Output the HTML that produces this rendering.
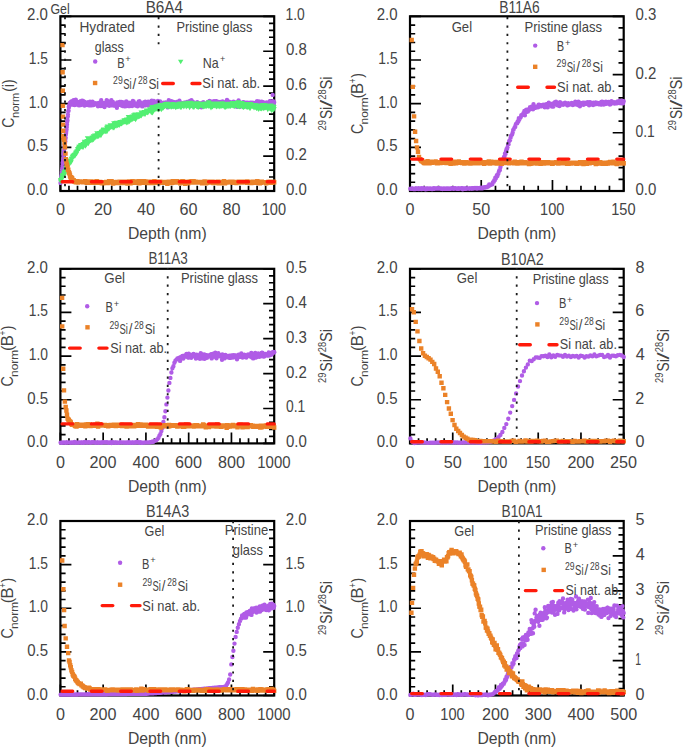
<!DOCTYPE html>
<html><head><meta charset="utf-8"><style>
html,body{margin:0;padding:0;background:#fff;}
svg{display:block;}
</style></head><body>
<svg width="685" height="749" viewBox="0 0 685 749" font-family='"Liberation Sans", sans-serif' fill="#444444">
<rect width="685" height="749" fill="#fff"/>
<rect x="60.40" y="16.30" width="213.80" height="174.70" stroke="#000" stroke-width="2.2" fill="none"/>
<path d="M60.40,191.00h11.0M60.40,182.26h5.2M60.40,173.53h5.2M60.40,164.79h5.2M60.40,156.06h5.2M60.40,147.32h11.0M60.40,138.59h5.2M60.40,129.85h5.2M60.40,121.12h5.2M60.40,112.39h5.2M60.40,103.65h11.0M60.40,94.91h5.2M60.40,86.18h5.2M60.40,77.45h5.2M60.40,68.71h5.2M60.40,59.98h11.0M60.40,51.24h5.2M60.40,42.50h5.2M60.40,33.77h5.2M60.40,25.03h5.2M60.40,16.30h11.0M274.20,191.00h-11.0M274.20,184.01h-5.2M274.20,177.02h-5.2M274.20,170.04h-5.2M274.20,163.05h-5.2M274.20,156.06h-11.0M274.20,149.07h-5.2M274.20,142.08h-5.2M274.20,135.10h-5.2M274.20,128.11h-5.2M274.20,121.12h-11.0M274.20,114.13h-5.2M274.20,107.14h-5.2M274.20,100.16h-5.2M274.20,93.17h-5.2M274.20,86.18h-11.0M274.20,79.19h-5.2M274.20,72.20h-5.2M274.20,65.22h-5.2M274.20,58.23h-5.2M274.20,51.24h-11.0M274.20,44.25h-5.2M274.20,37.26h-5.2M274.20,30.28h-5.2M274.20,23.29h-5.2M274.20,16.30h-11.0M60.40,191.00v-11.0M68.95,191.00v-5.2M77.50,191.00v-5.2M86.06,191.00v-5.2M94.61,191.00v-5.2M103.16,191.00v-11.0M111.71,191.00v-5.2M120.26,191.00v-5.2M128.82,191.00v-5.2M137.37,191.00v-5.2M145.92,191.00v-11.0M154.47,191.00v-5.2M163.02,191.00v-5.2M171.58,191.00v-5.2M180.13,191.00v-5.2M188.68,191.00v-11.0M197.23,191.00v-5.2M205.78,191.00v-5.2M214.34,191.00v-5.2M222.89,191.00v-5.2M231.44,191.00v-11.0M239.99,191.00v-5.2M248.54,191.00v-5.2M257.10,191.00v-5.2M265.65,191.00v-5.2M274.20,191.00v-11.0" stroke="#000" stroke-width="1.7" fill="none"/>
<rect x="410.00" y="16.30" width="213.70" height="174.70" stroke="#000" stroke-width="2.2" fill="none"/>
<path d="M410.00,191.00h11.0M410.00,182.26h5.2M410.00,173.53h5.2M410.00,164.79h5.2M410.00,156.06h5.2M410.00,147.32h11.0M410.00,138.59h5.2M410.00,129.85h5.2M410.00,121.12h5.2M410.00,112.39h5.2M410.00,103.65h11.0M410.00,94.91h5.2M410.00,86.18h5.2M410.00,77.45h5.2M410.00,68.71h5.2M410.00,59.98h11.0M410.00,51.24h5.2M410.00,42.50h5.2M410.00,33.77h5.2M410.00,25.03h5.2M410.00,16.30h11.0M623.70,191.00h-11.0M623.70,179.35h-5.2M623.70,167.71h-5.2M623.70,156.06h-5.2M623.70,144.41h-5.2M623.70,132.77h-11.0M623.70,121.12h-5.2M623.70,109.47h-5.2M623.70,97.83h-5.2M623.70,86.18h-5.2M623.70,74.53h-11.0M623.70,62.89h-5.2M623.70,51.24h-5.2M623.70,39.59h-5.2M623.70,27.95h-5.2M623.70,16.30h-11.0M410.00,191.00v-11.0M424.25,191.00v-5.2M438.49,191.00v-5.2M452.74,191.00v-5.2M466.99,191.00v-5.2M481.23,191.00v-11.0M495.48,191.00v-5.2M509.73,191.00v-5.2M523.97,191.00v-5.2M538.22,191.00v-5.2M552.47,191.00v-11.0M566.71,191.00v-5.2M580.96,191.00v-5.2M595.21,191.00v-5.2M609.45,191.00v-5.2M623.70,191.00v-11.0" stroke="#000" stroke-width="1.7" fill="none"/>
<rect x="60.40" y="268.80" width="213.80" height="174.60" stroke="#000" stroke-width="2.2" fill="none"/>
<path d="M60.40,443.40h11.0M60.40,434.67h5.2M60.40,425.94h5.2M60.40,417.21h5.2M60.40,408.48h5.2M60.40,399.75h11.0M60.40,391.02h5.2M60.40,382.29h5.2M60.40,373.56h5.2M60.40,364.83h5.2M60.40,356.10h11.0M60.40,347.37h5.2M60.40,338.64h5.2M60.40,329.91h5.2M60.40,321.18h5.2M60.40,312.45h11.0M60.40,303.72h5.2M60.40,294.99h5.2M60.40,286.26h5.2M60.40,277.53h5.2M60.40,268.80h11.0M274.20,443.40h-11.0M274.20,436.42h-5.2M274.20,429.43h-5.2M274.20,422.45h-5.2M274.20,415.46h-5.2M274.20,408.48h-11.0M274.20,401.50h-5.2M274.20,394.51h-5.2M274.20,387.53h-5.2M274.20,380.54h-5.2M274.20,373.56h-11.0M274.20,366.58h-5.2M274.20,359.59h-5.2M274.20,352.61h-5.2M274.20,345.62h-5.2M274.20,338.64h-11.0M274.20,331.66h-5.2M274.20,324.67h-5.2M274.20,317.69h-5.2M274.20,310.70h-5.2M274.20,303.72h-11.0M274.20,296.74h-5.2M274.20,289.75h-5.2M274.20,282.77h-5.2M274.20,275.78h-5.2M274.20,268.80h-11.0M60.40,443.40v-11.0M68.95,443.40v-5.2M77.50,443.40v-5.2M86.06,443.40v-5.2M94.61,443.40v-5.2M103.16,443.40v-11.0M111.71,443.40v-5.2M120.26,443.40v-5.2M128.82,443.40v-5.2M137.37,443.40v-5.2M145.92,443.40v-11.0M154.47,443.40v-5.2M163.02,443.40v-5.2M171.58,443.40v-5.2M180.13,443.40v-5.2M188.68,443.40v-11.0M197.23,443.40v-5.2M205.78,443.40v-5.2M214.34,443.40v-5.2M222.89,443.40v-5.2M231.44,443.40v-11.0M239.99,443.40v-5.2M248.54,443.40v-5.2M257.10,443.40v-5.2M265.65,443.40v-5.2M274.20,443.40v-11.0" stroke="#000" stroke-width="1.7" fill="none"/>
<rect x="410.00" y="268.80" width="213.70" height="174.60" stroke="#000" stroke-width="2.2" fill="none"/>
<path d="M410.00,443.40h11.0M410.00,434.67h5.2M410.00,425.94h5.2M410.00,417.21h5.2M410.00,408.48h5.2M410.00,399.75h11.0M410.00,391.02h5.2M410.00,382.29h5.2M410.00,373.56h5.2M410.00,364.83h5.2M410.00,356.10h11.0M410.00,347.37h5.2M410.00,338.64h5.2M410.00,329.91h5.2M410.00,321.18h5.2M410.00,312.45h11.0M410.00,303.72h5.2M410.00,294.99h5.2M410.00,286.26h5.2M410.00,277.53h5.2M410.00,268.80h11.0M623.70,443.40h-11.0M623.70,434.67h-5.2M623.70,425.94h-5.2M623.70,417.21h-5.2M623.70,408.48h-5.2M623.70,399.75h-11.0M623.70,391.02h-5.2M623.70,382.29h-5.2M623.70,373.56h-5.2M623.70,364.83h-5.2M623.70,356.10h-11.0M623.70,347.37h-5.2M623.70,338.64h-5.2M623.70,329.91h-5.2M623.70,321.18h-5.2M623.70,312.45h-11.0M623.70,303.72h-5.2M623.70,294.99h-5.2M623.70,286.26h-5.2M623.70,277.53h-5.2M623.70,268.80h-11.0M410.00,443.40v-11.0M418.55,443.40v-5.2M427.10,443.40v-5.2M435.64,443.40v-5.2M444.19,443.40v-5.2M452.74,443.40v-11.0M461.29,443.40v-5.2M469.84,443.40v-5.2M478.38,443.40v-5.2M486.93,443.40v-5.2M495.48,443.40v-11.0M504.03,443.40v-5.2M512.58,443.40v-5.2M521.12,443.40v-5.2M529.67,443.40v-5.2M538.22,443.40v-11.0M546.77,443.40v-5.2M555.32,443.40v-5.2M563.86,443.40v-5.2M572.41,443.40v-5.2M580.96,443.40v-11.0M589.51,443.40v-5.2M598.06,443.40v-5.2M606.60,443.40v-5.2M615.15,443.40v-5.2M623.70,443.40v-11.0" stroke="#000" stroke-width="1.7" fill="none"/>
<rect x="60.40" y="521.00" width="213.80" height="174.50" stroke="#000" stroke-width="2.2" fill="none"/>
<path d="M60.40,695.50h11.0M60.40,686.77h5.2M60.40,678.05h5.2M60.40,669.33h5.2M60.40,660.60h5.2M60.40,651.88h11.0M60.40,643.15h5.2M60.40,634.42h5.2M60.40,625.70h5.2M60.40,616.98h5.2M60.40,608.25h11.0M60.40,599.52h5.2M60.40,590.80h5.2M60.40,582.08h5.2M60.40,573.35h5.2M60.40,564.62h11.0M60.40,555.90h5.2M60.40,547.17h5.2M60.40,538.45h5.2M60.40,529.73h5.2M60.40,521.00h11.0M274.20,695.50h-11.0M274.20,686.77h-5.2M274.20,678.05h-5.2M274.20,669.33h-5.2M274.20,660.60h-5.2M274.20,651.88h-11.0M274.20,643.15h-5.2M274.20,634.42h-5.2M274.20,625.70h-5.2M274.20,616.98h-5.2M274.20,608.25h-11.0M274.20,599.52h-5.2M274.20,590.80h-5.2M274.20,582.08h-5.2M274.20,573.35h-5.2M274.20,564.62h-11.0M274.20,555.90h-5.2M274.20,547.17h-5.2M274.20,538.45h-5.2M274.20,529.73h-5.2M274.20,521.00h-11.0M60.40,695.50v-11.0M68.95,695.50v-5.2M77.50,695.50v-5.2M86.06,695.50v-5.2M94.61,695.50v-5.2M103.16,695.50v-11.0M111.71,695.50v-5.2M120.26,695.50v-5.2M128.82,695.50v-5.2M137.37,695.50v-5.2M145.92,695.50v-11.0M154.47,695.50v-5.2M163.02,695.50v-5.2M171.58,695.50v-5.2M180.13,695.50v-5.2M188.68,695.50v-11.0M197.23,695.50v-5.2M205.78,695.50v-5.2M214.34,695.50v-5.2M222.89,695.50v-5.2M231.44,695.50v-11.0M239.99,695.50v-5.2M248.54,695.50v-5.2M257.10,695.50v-5.2M265.65,695.50v-5.2M274.20,695.50v-11.0" stroke="#000" stroke-width="1.7" fill="none"/>
<rect x="410.00" y="521.00" width="213.70" height="174.50" stroke="#000" stroke-width="2.2" fill="none"/>
<path d="M410.00,695.50h11.0M410.00,686.77h5.2M410.00,678.05h5.2M410.00,669.33h5.2M410.00,660.60h5.2M410.00,651.88h11.0M410.00,643.15h5.2M410.00,634.42h5.2M410.00,625.70h5.2M410.00,616.98h5.2M410.00,608.25h11.0M410.00,599.52h5.2M410.00,590.80h5.2M410.00,582.08h5.2M410.00,573.35h5.2M410.00,564.62h11.0M410.00,555.90h5.2M410.00,547.17h5.2M410.00,538.45h5.2M410.00,529.73h5.2M410.00,521.00h11.0M623.70,695.50h-11.0M623.70,688.52h-5.2M623.70,681.54h-5.2M623.70,674.56h-5.2M623.70,667.58h-5.2M623.70,660.60h-11.0M623.70,653.62h-5.2M623.70,646.64h-5.2M623.70,639.66h-5.2M623.70,632.68h-5.2M623.70,625.70h-11.0M623.70,618.72h-5.2M623.70,611.74h-5.2M623.70,604.76h-5.2M623.70,597.78h-5.2M623.70,590.80h-11.0M623.70,583.82h-5.2M623.70,576.84h-5.2M623.70,569.86h-5.2M623.70,562.88h-5.2M623.70,555.90h-11.0M623.70,548.92h-5.2M623.70,541.94h-5.2M623.70,534.96h-5.2M623.70,527.98h-5.2M623.70,521.00h-11.0M410.00,695.50v-11.0M418.55,695.50v-5.2M427.10,695.50v-5.2M435.64,695.50v-5.2M444.19,695.50v-5.2M452.74,695.50v-11.0M461.29,695.50v-5.2M469.84,695.50v-5.2M478.38,695.50v-5.2M486.93,695.50v-5.2M495.48,695.50v-11.0M504.03,695.50v-5.2M512.58,695.50v-5.2M521.12,695.50v-5.2M529.67,695.50v-5.2M538.22,695.50v-11.0M546.77,695.50v-5.2M555.32,695.50v-5.2M563.86,695.50v-5.2M572.41,695.50v-5.2M580.96,695.50v-11.0M589.51,695.50v-5.2M598.06,695.50v-5.2M606.60,695.50v-5.2M615.15,695.50v-5.2M623.70,695.50v-11.0" stroke="#000" stroke-width="1.7" fill="none"/>
<path d="M60.5 182.9h0M60.7 182.1h0M60.9 180.0h0M61.0 178.5h0M61.2 176.4h0M61.4 175.6h0M61.6 175.3h0M61.8 173.1h0M61.9 172.0h0M62.1 169.5h0M62.3 168.0h0M62.5 166.0h0M62.7 162.7h0M62.8 163.2h0M63.0 161.2h0M63.2 159.5h0M63.4 155.9h0M63.6 154.2h0M63.7 153.3h0M63.9 152.1h0M64.1 151.2h0M64.3 149.2h0M64.5 148.1h0M64.6 145.4h0M64.8 144.7h0M65.0 143.2h0M65.2 140.7h0M65.4 141.3h0M65.5 138.7h0M65.7 137.7h0M65.9 134.5h0M66.1 132.9h0M66.2 131.7h0M66.4 130.3h0M66.6 129.3h0M66.8 127.0h0M67.0 124.6h0M67.1 122.2h0M67.3 120.8h0M67.5 120.5h0M67.7 116.8h0M67.9 116.1h0M68.0 114.6h0M68.2 111.2h0M68.4 111.0h0M68.6 110.7h0M68.8 106.8h0M68.9 107.4h0M69.1 106.8h0M69.3 105.2h0M69.5 105.5h0M69.7 104.4h0M69.8 102.9h0M70.0 104.8h0M70.2 104.4h0M70.4 104.5h0M70.6 104.7h0M70.7 103.5h0M70.9 103.1h0M71.1 101.6h0" stroke="#b05ce6" stroke-width="4.4" stroke-linecap="round" fill="none"/>
<path d="M71.1 103.6h0M71.5 102.0h0M71.8 102.2h0M72.2 101.1h0M72.5 101.6h0M72.9 102.2h0M73.3 104.7h0M73.6 100.2h0M74.0 101.0h0M74.4 103.3h0M74.7 105.0h0M75.1 103.8h0M75.5 100.5h0M75.8 99.7h0M76.2 103.6h0M76.5 102.2h0M76.9 101.7h0M77.3 104.5h0M77.6 104.7h0M78.0 103.4h0M78.4 103.6h0M78.7 103.8h0M79.1 105.4h0M79.4 104.1h0M79.8 104.0h0M80.2 104.0h0M80.5 101.2h0M80.9 105.0h0M81.3 104.6h0M81.6 104.0h0M82.0 100.6h0M82.4 102.4h0M82.7 104.4h0M83.1 100.9h0M83.4 103.1h0M83.8 104.7h0M84.2 101.6h0M84.5 105.5h0M84.9 104.1h0M85.3 103.2h0M85.6 103.8h0M86.0 104.2h0M86.4 103.5h0M86.7 104.9h0M87.1 102.5h0M87.4 102.8h0M87.8 104.8h0M88.2 103.4h0M88.5 102.2h0M88.9 104.7h0M89.3 105.4h0M89.6 102.8h0M90.0 101.6h0M90.3 103.3h0M90.7 103.3h0M91.1 103.1h0M91.4 105.4h0M91.8 102.1h0M92.2 105.2h0M92.5 101.8h0M92.9 102.4h0M93.3 104.4h0M93.6 105.0h0M94.0 104.7h0M94.3 104.0h0M94.7 103.7h0M95.1 103.7h0M95.4 104.3h0M95.8 103.3h0M96.2 103.9h0M96.5 104.3h0M96.9 103.6h0M97.3 104.6h0M97.6 104.4h0M98.0 106.3h0M98.3 104.0h0M98.7 103.0h0M99.1 103.1h0M99.4 103.6h0M99.8 104.9h0M100.2 103.2h0M100.5 104.2h0M100.9 106.1h0M101.2 100.2h0M101.6 102.1h0M102.0 104.0h0M102.3 104.2h0M102.7 104.0h0M103.1 103.1h0M103.4 104.6h0M103.8 104.1h0M104.2 103.0h0M104.5 107.0h0M104.9 104.2h0M105.2 103.0h0M105.6 103.6h0M106.0 103.4h0M106.3 103.7h0M106.7 100.1h0M107.1 103.1h0M107.4 105.1h0M107.8 102.2h0M108.2 103.7h0M108.5 105.1h0M108.9 105.0h0M109.2 105.8h0M109.6 101.5h0M110.0 103.3h0M110.3 103.4h0M110.7 104.7h0M111.1 105.3h0M111.4 100.2h0M111.8 105.3h0M112.1 101.9h0M112.5 104.8h0M112.9 101.9h0M113.2 104.1h0M113.6 105.5h0M114.0 103.7h0M114.3 104.2h0M114.7 105.0h0M115.1 104.1h0M115.4 103.8h0M115.8 106.0h0M116.1 105.3h0M116.5 103.5h0M116.9 107.7h0M117.2 102.4h0M117.6 105.2h0M118.0 103.6h0M118.3 104.2h0M118.7 104.9h0M119.1 104.3h0M119.4 104.9h0M119.8 101.9h0M120.1 102.0h0M120.5 104.8h0M120.9 102.7h0M121.2 102.6h0M121.6 102.0h0M122.0 105.7h0M122.3 105.1h0M122.7 106.0h0M123.0 102.8h0M123.4 104.1h0M123.8 102.5h0M124.1 105.1h0M124.5 106.2h0M124.9 102.9h0M125.2 106.2h0M125.6 105.4h0M126.0 103.8h0M126.3 101.4h0M126.7 106.0h0M127.0 103.9h0M127.4 103.3h0M127.8 104.6h0M128.1 104.6h0M128.5 106.1h0M128.9 102.7h0M129.2 105.6h0M129.6 106.1h0M130.0 106.0h0M130.3 103.8h0M130.7 103.0h0M131.0 105.4h0M131.4 104.2h0M131.8 104.2h0M132.1 106.0h0M132.5 103.7h0M132.9 100.9h0M133.2 103.5h0M133.6 101.5h0M133.9 105.1h0M134.3 104.4h0M134.7 103.2h0M135.0 104.0h0M135.4 105.1h0M135.8 104.1h0M136.1 105.8h0M136.5 103.9h0M136.9 105.4h0M137.2 106.0h0M137.6 106.2h0M137.9 103.1h0M138.3 105.2h0M138.7 101.5h0M139.0 102.5h0M139.4 101.3h0M139.8 105.4h0M140.1 102.3h0M140.5 104.0h0M140.9 103.7h0M141.2 103.9h0M141.6 103.2h0M141.9 104.3h0M142.3 106.4h0M142.7 104.0h0M143.0 104.7h0M143.4 105.3h0M143.8 103.7h0M144.1 102.3h0M144.5 103.2h0M144.8 105.4h0M145.2 101.7h0M145.6 103.1h0M145.9 105.3h0M146.3 105.0h0M146.7 103.9h0M147.0 105.0h0M147.4 104.2h0M147.8 102.3h0M148.1 101.8h0M148.5 103.1h0M148.8 105.2h0M149.2 103.2h0M149.6 102.7h0M149.9 102.9h0M150.3 101.8h0M150.7 103.8h0M151.0 102.3h0M151.4 104.4h0M151.8 100.7h0M152.1 104.3h0M152.5 103.0h0M152.8 101.3h0M153.2 104.9h0M153.6 103.5h0M153.9 100.9h0M154.3 102.7h0M154.7 104.3h0M155.0 103.3h0M155.4 104.9h0M155.7 104.9h0M156.1 104.8h0M156.5 104.3h0M156.8 105.7h0M157.2 104.8h0M157.6 104.5h0M157.9 101.0h0M158.3 105.1h0M158.7 105.6h0M159.0 103.5h0M159.4 103.2h0M159.7 106.5h0M160.1 101.5h0M160.5 104.5h0M160.8 107.1h0M161.2 102.6h0M161.6 104.8h0M161.9 106.4h0M162.3 103.7h0M162.7 104.6h0M163.0 105.0h0M163.4 102.6h0M163.7 103.7h0M164.1 104.2h0M164.5 104.9h0M164.8 103.8h0M165.2 103.5h0M165.6 102.4h0M165.9 103.3h0M166.3 105.0h0M166.6 103.9h0M167.0 102.6h0M167.4 102.7h0M167.7 107.4h0M168.1 105.3h0M168.5 104.6h0M168.8 100.3h0M169.2 104.6h0M169.6 104.4h0M169.9 106.1h0M170.3 104.4h0M170.6 103.7h0M171.0 104.5h0M171.4 101.1h0M171.7 105.2h0M172.1 104.2h0M172.5 102.8h0M172.8 105.5h0M173.2 106.2h0M173.6 101.9h0M173.9 102.9h0M174.3 104.1h0M174.6 104.0h0M175.0 103.2h0M175.4 102.4h0M175.7 106.6h0M176.1 105.1h0M176.5 102.1h0M176.8 101.9h0M177.2 106.0h0M177.6 105.1h0M177.9 106.2h0M178.3 104.8h0M178.6 102.5h0M179.0 104.1h0M179.4 100.8h0M179.7 102.7h0M180.1 103.6h0M180.5 104.4h0M180.8 102.7h0M181.2 103.5h0M181.5 104.3h0M181.9 104.2h0M182.3 104.6h0M182.6 104.0h0M183.0 103.3h0M183.4 104.8h0M183.7 103.8h0M184.1 102.6h0M184.5 102.8h0M184.8 103.7h0M185.2 103.5h0M185.5 103.9h0M185.9 103.7h0M186.3 103.9h0M186.6 103.5h0M187.0 102.0h0M187.4 104.2h0M187.7 105.1h0M188.1 104.2h0M188.5 103.4h0M188.8 104.3h0M189.2 102.3h0M189.5 101.1h0M189.9 103.7h0M190.3 102.4h0M190.6 104.6h0M191.0 102.2h0M191.4 100.1h0M191.7 102.2h0M192.1 105.8h0M192.4 103.1h0M192.8 101.8h0M193.2 102.6h0M193.5 104.4h0M193.9 104.3h0M194.3 103.9h0M194.6 105.7h0M195.0 104.6h0M195.4 103.6h0M195.7 104.5h0M196.1 105.9h0M196.4 105.0h0M196.8 105.0h0M197.2 102.2h0M197.5 103.4h0M197.9 104.6h0M198.3 103.2h0M198.6 105.1h0M199.0 104.5h0M199.4 104.9h0M199.7 103.4h0M200.1 107.1h0M200.4 105.3h0M200.8 103.4h0M201.2 103.8h0M201.5 107.2h0M201.9 103.2h0M202.3 104.8h0M202.6 105.0h0M203.0 103.7h0M203.3 102.1h0M203.7 103.9h0M204.1 104.1h0M204.4 105.2h0M204.8 104.7h0M205.2 103.7h0M205.5 104.8h0M205.9 104.4h0M206.3 103.9h0M206.6 103.7h0M207.0 103.3h0M207.3 104.6h0M207.7 102.2h0M208.1 102.8h0M208.4 103.7h0M208.8 101.7h0M209.2 103.1h0M209.5 100.9h0M209.9 102.7h0M210.3 104.4h0M210.6 104.4h0M211.0 103.6h0M211.3 103.3h0M211.7 101.7h0M212.1 106.1h0M212.4 104.3h0M212.8 105.1h0M213.2 102.5h0M213.5 103.4h0M213.9 101.2h0M214.2 104.7h0M214.6 104.9h0M215.0 101.1h0M215.3 103.6h0M215.7 104.5h0M216.1 101.3h0M216.4 101.2h0M216.8 102.2h0M217.2 102.8h0M217.5 101.8h0M217.9 103.7h0M218.2 104.0h0M218.6 104.5h0M219.0 104.6h0M219.3 105.7h0M219.7 105.2h0M220.1 101.9h0M220.4 103.0h0M220.8 102.2h0M221.2 102.2h0M221.5 103.5h0M221.9 103.7h0M222.2 104.3h0M222.6 101.5h0M223.0 102.0h0M223.3 103.6h0M223.7 103.4h0M224.1 103.2h0M224.4 103.6h0M224.8 102.6h0M225.1 104.6h0M225.5 104.1h0M225.9 103.5h0M226.2 102.7h0M226.6 103.4h0M227.0 100.0h0M227.3 102.3h0M227.7 103.7h0M228.1 101.6h0M228.4 103.9h0M228.8 103.8h0M229.1 101.8h0M229.5 103.3h0M229.9 103.2h0M230.2 104.3h0M230.6 104.5h0M231.0 103.6h0M231.3 102.5h0M231.7 103.5h0M232.1 103.6h0M232.4 104.6h0M232.8 104.0h0M233.1 102.7h0M233.5 101.8h0M233.9 103.1h0M234.2 102.7h0M234.6 102.1h0M235.0 103.5h0M235.3 103.0h0M235.7 103.8h0M236.0 104.4h0M236.4 103.1h0M236.8 106.8h0M237.1 103.2h0M237.5 105.1h0M237.9 103.8h0M238.2 105.2h0M238.6 100.4h0M239.0 102.6h0M239.3 104.0h0M239.7 104.5h0M240.0 106.8h0M240.4 104.1h0M240.8 105.4h0M241.1 104.7h0M241.5 104.9h0M241.9 104.3h0M242.2 103.4h0M242.6 104.3h0M243.0 102.2h0M243.3 105.2h0M243.7 102.3h0M244.0 104.0h0M244.4 106.5h0M244.8 103.3h0M245.1 103.7h0M245.5 105.2h0M245.9 103.7h0M246.2 102.6h0M246.6 104.0h0M246.9 104.4h0M247.3 104.6h0M247.7 102.6h0M248.0 106.0h0M248.4 105.9h0M248.8 103.7h0M249.1 104.0h0M249.5 103.1h0M249.9 105.6h0M250.2 102.7h0M250.6 104.6h0M250.9 103.0h0M251.3 102.7h0M251.7 104.6h0M252.0 105.5h0M252.4 103.6h0M252.8 102.7h0M253.1 104.7h0M253.5 103.6h0M253.9 104.1h0M254.2 105.7h0M254.6 105.2h0M254.9 102.9h0M255.3 106.7h0M255.7 103.7h0M256.0 104.7h0M256.4 102.8h0M256.8 103.6h0M257.1 101.3h0M257.5 106.1h0M257.8 105.5h0M258.2 102.0h0M258.6 101.6h0M258.9 101.5h0M259.3 105.2h0M259.7 103.0h0M260.0 103.6h0M260.4 103.2h0M260.8 103.5h0M261.1 102.2h0M261.5 103.7h0M261.8 101.7h0M262.2 103.6h0M262.6 104.1h0M262.9 104.3h0M263.3 103.3h0M263.7 102.4h0M264.0 103.9h0M264.4 103.0h0M264.8 105.8h0M265.1 104.7h0M265.5 103.5h0M265.8 103.0h0M266.2 102.7h0M266.6 102.4h0M266.9 103.2h0M267.3 104.0h0M267.7 104.3h0M268.0 104.4h0M268.4 106.5h0M268.7 102.7h0M269.1 103.7h0M269.5 107.4h0M269.8 101.1h0M270.2 102.9h0M270.6 103.9h0M270.9 103.9h0M271.3 104.2h0M271.7 103.3h0M272.0 104.1h0M272.4 103.7h0M272.7 104.7h0M273.1 101.1h0M273.5 102.5h0M273.8 103.6h0M274.2 102.3h0" stroke="#b05ce6" stroke-width="4.4" stroke-linecap="round" fill="none"/>
<path d="M272.7 94.9h0" stroke="#b05ce6" stroke-width="4.4" stroke-linecap="round" fill="none"/>
<path d="M57.9 178.6h5.2l-2.6 4.5zM58.1 179.8h5.2l-2.6 4.5zM58.4 177.9h5.2l-2.6 4.5zM58.6 178.7h5.2l-2.6 4.5zM58.9 178.2h5.2l-2.6 4.5zM59.1 177.2h5.2l-2.6 4.5zM59.3 176.8h5.2l-2.6 4.5zM59.6 175.5h5.2l-2.6 4.5zM59.8 173.5h5.2l-2.6 4.5zM60.0 174.5h5.2l-2.6 4.5zM60.3 174.6h5.2l-2.6 4.5zM60.5 173.0h5.2l-2.6 4.5zM60.8 173.0h5.2l-2.6 4.5zM61.0 173.4h5.2l-2.6 4.5zM61.2 171.1h5.2l-2.6 4.5zM61.5 172.3h5.2l-2.6 4.5zM61.7 173.2h5.2l-2.6 4.5zM61.9 170.0h5.2l-2.6 4.5zM62.2 170.3h5.2l-2.6 4.5zM62.4 169.4h5.2l-2.6 4.5zM62.7 170.7h5.2l-2.6 4.5zM62.9 168.7h5.2l-2.6 4.5zM63.1 168.8h5.2l-2.6 4.5zM63.4 166.5h5.2l-2.6 4.5zM63.6 166.6h5.2l-2.6 4.5zM63.8 166.0h5.2l-2.6 4.5zM64.1 163.5h5.2l-2.6 4.5zM64.3 166.5h5.2l-2.6 4.5zM64.6 165.5h5.2l-2.6 4.5zM64.8 162.2h5.2l-2.6 4.5zM65.0 164.6h5.2l-2.6 4.5zM65.3 163.2h5.2l-2.6 4.5zM65.5 163.4h5.2l-2.6 4.5zM65.8 162.9h5.2l-2.6 4.5zM66.0 160.5h5.2l-2.6 4.5zM66.2 161.5h5.2l-2.6 4.5zM66.5 163.0h5.2l-2.6 4.5zM66.7 160.3h5.2l-2.6 4.5zM66.9 159.4h5.2l-2.6 4.5zM67.2 158.6h5.2l-2.6 4.5zM67.4 158.4h5.2l-2.6 4.5zM67.7 159.7h5.2l-2.6 4.5zM67.9 160.8h5.2l-2.6 4.5zM68.1 159.0h5.2l-2.6 4.5zM68.4 158.4h5.2l-2.6 4.5zM68.6 160.3h5.2l-2.6 4.5zM68.8 156.9h5.2l-2.6 4.5zM69.1 156.4h5.2l-2.6 4.5zM69.3 157.4h5.2l-2.6 4.5zM69.6 157.1h5.2l-2.6 4.5zM69.8 155.1h5.2l-2.6 4.5zM70.0 154.6h5.2l-2.6 4.5zM70.3 155.9h5.2l-2.6 4.5zM70.5 155.5h5.2l-2.6 4.5zM70.7 153.4h5.2l-2.6 4.5zM71.0 154.3h5.2l-2.6 4.5zM71.2 153.6h5.2l-2.6 4.5zM71.5 154.4h5.2l-2.6 4.5zM71.7 153.4h5.2l-2.6 4.5zM71.9 153.1h5.2l-2.6 4.5zM72.2 152.5h5.2l-2.6 4.5zM72.4 153.7h5.2l-2.6 4.5zM72.6 153.8h5.2l-2.6 4.5zM72.9 151.5h5.2l-2.6 4.5zM73.1 152.5h5.2l-2.6 4.5zM73.4 150.3h5.2l-2.6 4.5zM73.6 150.9h5.2l-2.6 4.5zM73.8 151.3h5.2l-2.6 4.5zM74.1 151.8h5.2l-2.6 4.5zM74.3 149.3h5.2l-2.6 4.5zM74.5 149.3h5.2l-2.6 4.5zM74.8 149.3h5.2l-2.6 4.5zM75.0 147.1h5.2l-2.6 4.5zM75.3 148.4h5.2l-2.6 4.5zM75.5 147.3h5.2l-2.6 4.5zM75.7 148.0h5.2l-2.6 4.5zM76.0 146.0h5.2l-2.6 4.5zM76.2 144.8h5.2l-2.6 4.5zM76.4 146.6h5.2l-2.6 4.5zM76.7 146.5h5.2l-2.6 4.5zM76.9 145.3h5.2l-2.6 4.5zM77.2 146.5h5.2l-2.6 4.5zM77.4 144.9h5.2l-2.6 4.5zM77.6 144.3h5.2l-2.6 4.5zM77.9 145.3h5.2l-2.6 4.5zM78.1 142.9h5.2l-2.6 4.5zM78.3 143.7h5.2l-2.6 4.5zM78.6 144.3h5.2l-2.6 4.5zM78.8 145.1h5.2l-2.6 4.5zM79.1 143.8h5.2l-2.6 4.5zM79.3 144.2h5.2l-2.6 4.5zM79.5 142.9h5.2l-2.6 4.5zM79.8 143.8h5.2l-2.6 4.5zM80.0 145.2h5.2l-2.6 4.5zM80.3 142.4h5.2l-2.6 4.5zM80.5 145.6h5.2l-2.6 4.5zM80.7 142.1h5.2l-2.6 4.5zM81.0 142.7h5.2l-2.6 4.5zM81.2 142.7h5.2l-2.6 4.5zM81.4 143.5h5.2l-2.6 4.5zM81.7 140.8h5.2l-2.6 4.5zM81.9 139.7h5.2l-2.6 4.5zM82.2 142.5h5.2l-2.6 4.5zM82.4 142.6h5.2l-2.6 4.5zM82.6 142.2h5.2l-2.6 4.5zM82.9 144.3h5.2l-2.6 4.5zM83.1 141.5h5.2l-2.6 4.5zM83.3 141.3h5.2l-2.6 4.5zM83.6 141.9h5.2l-2.6 4.5zM83.8 141.1h5.2l-2.6 4.5zM84.1 142.4h5.2l-2.6 4.5zM84.3 139.1h5.2l-2.6 4.5zM84.5 139.8h5.2l-2.6 4.5zM84.8 136.3h5.2l-2.6 4.5zM85.0 140.8h5.2l-2.6 4.5zM85.2 139.4h5.2l-2.6 4.5zM85.5 140.6h5.2l-2.6 4.5zM85.7 141.8h5.2l-2.6 4.5zM86.0 139.3h5.2l-2.6 4.5zM86.2 138.8h5.2l-2.6 4.5zM86.4 138.4h5.2l-2.6 4.5zM86.7 137.9h5.2l-2.6 4.5zM86.9 137.9h5.2l-2.6 4.5zM87.1 139.2h5.2l-2.6 4.5zM87.4 138.4h5.2l-2.6 4.5zM87.6 138.2h5.2l-2.6 4.5zM87.9 137.8h5.2l-2.6 4.5zM88.1 138.8h5.2l-2.6 4.5zM88.3 138.2h5.2l-2.6 4.5zM88.6 137.3h5.2l-2.6 4.5zM88.8 138.1h5.2l-2.6 4.5zM89.0 137.0h5.2l-2.6 4.5zM89.3 135.8h5.2l-2.6 4.5zM89.5 138.5h5.2l-2.6 4.5zM89.8 137.2h5.2l-2.6 4.5zM90.0 135.5h5.2l-2.6 4.5zM90.2 137.6h5.2l-2.6 4.5zM90.5 136.6h5.2l-2.6 4.5zM90.7 134.3h5.2l-2.6 4.5zM90.9 137.7h5.2l-2.6 4.5zM91.2 136.1h5.2l-2.6 4.5zM91.4 136.6h5.2l-2.6 4.5zM91.7 135.6h5.2l-2.6 4.5zM91.9 135.1h5.2l-2.6 4.5zM92.1 133.4h5.2l-2.6 4.5zM92.4 136.0h5.2l-2.6 4.5zM92.6 134.8h5.2l-2.6 4.5zM92.8 134.3h5.2l-2.6 4.5zM93.1 134.9h5.2l-2.6 4.5zM93.3 134.4h5.2l-2.6 4.5zM93.6 134.9h5.2l-2.6 4.5zM93.8 133.6h5.2l-2.6 4.5zM94.0 133.8h5.2l-2.6 4.5zM94.3 131.3h5.2l-2.6 4.5zM94.5 133.1h5.2l-2.6 4.5zM94.8 134.1h5.2l-2.6 4.5zM95.0 134.7h5.2l-2.6 4.5zM95.2 132.7h5.2l-2.6 4.5zM95.5 132.8h5.2l-2.6 4.5zM95.7 134.5h5.2l-2.6 4.5zM95.9 132.2h5.2l-2.6 4.5zM96.2 133.2h5.2l-2.6 4.5zM96.4 134.1h5.2l-2.6 4.5zM96.7 132.2h5.2l-2.6 4.5zM96.9 133.3h5.2l-2.6 4.5zM97.1 131.0h5.2l-2.6 4.5zM97.4 131.9h5.2l-2.6 4.5zM97.6 131.4h5.2l-2.6 4.5zM97.8 131.5h5.2l-2.6 4.5zM98.1 132.4h5.2l-2.6 4.5zM98.3 133.7h5.2l-2.6 4.5zM98.6 130.1h5.2l-2.6 4.5zM98.8 130.1h5.2l-2.6 4.5zM99.0 131.1h5.2l-2.6 4.5zM99.3 129.2h5.2l-2.6 4.5zM99.5 130.8h5.2l-2.6 4.5zM99.7 130.7h5.2l-2.6 4.5zM100.0 129.6h5.2l-2.6 4.5zM100.2 130.3h5.2l-2.6 4.5zM100.5 127.9h5.2l-2.6 4.5zM100.7 130.3h5.2l-2.6 4.5zM100.9 127.6h5.2l-2.6 4.5zM101.2 128.4h5.2l-2.6 4.5zM101.4 128.4h5.2l-2.6 4.5zM101.6 128.4h5.2l-2.6 4.5zM101.9 129.6h5.2l-2.6 4.5zM102.1 128.6h5.2l-2.6 4.5zM102.4 127.9h5.2l-2.6 4.5zM102.6 128.8h5.2l-2.6 4.5zM102.8 129.8h5.2l-2.6 4.5zM103.1 127.9h5.2l-2.6 4.5zM103.3 128.1h5.2l-2.6 4.5zM103.5 128.9h5.2l-2.6 4.5zM103.8 127.7h5.2l-2.6 4.5zM104.0 125.8h5.2l-2.6 4.5zM104.3 129.8h5.2l-2.6 4.5zM104.5 129.4h5.2l-2.6 4.5zM104.7 124.6h5.2l-2.6 4.5zM105.0 126.6h5.2l-2.6 4.5zM105.2 126.9h5.2l-2.6 4.5zM105.4 127.4h5.2l-2.6 4.5zM105.7 126.9h5.2l-2.6 4.5zM105.9 125.8h5.2l-2.6 4.5zM106.2 124.8h5.2l-2.6 4.5zM106.4 126.0h5.2l-2.6 4.5zM106.6 126.9h5.2l-2.6 4.5zM106.9 124.5h5.2l-2.6 4.5zM107.1 124.5h5.2l-2.6 4.5zM107.3 125.5h5.2l-2.6 4.5zM107.6 123.3h5.2l-2.6 4.5zM107.8 125.0h5.2l-2.6 4.5zM108.1 124.7h5.2l-2.6 4.5zM108.3 125.6h5.2l-2.6 4.5zM108.5 124.2h5.2l-2.6 4.5zM108.8 123.9h5.2l-2.6 4.5zM109.0 124.4h5.2l-2.6 4.5zM109.3 124.7h5.2l-2.6 4.5zM109.5 123.9h5.2l-2.6 4.5zM109.7 124.5h5.2l-2.6 4.5zM110.0 125.2h5.2l-2.6 4.5zM110.2 125.6h5.2l-2.6 4.5zM110.4 126.1h5.2l-2.6 4.5zM110.7 123.3h5.2l-2.6 4.5zM110.9 123.6h5.2l-2.6 4.5zM111.2 121.2h5.2l-2.6 4.5zM111.4 125.9h5.2l-2.6 4.5zM111.6 122.9h5.2l-2.6 4.5zM111.9 123.6h5.2l-2.6 4.5zM112.1 124.1h5.2l-2.6 4.5zM112.3 121.9h5.2l-2.6 4.5zM112.6 123.8h5.2l-2.6 4.5zM112.8 123.2h5.2l-2.6 4.5zM113.1 121.1h5.2l-2.6 4.5zM113.3 123.3h5.2l-2.6 4.5zM113.5 124.2h5.2l-2.6 4.5zM113.8 120.8h5.2l-2.6 4.5zM114.0 123.6h5.2l-2.6 4.5zM114.2 122.9h5.2l-2.6 4.5zM114.5 123.0h5.2l-2.6 4.5zM114.7 122.9h5.2l-2.6 4.5zM115.0 123.8h5.2l-2.6 4.5zM115.2 122.0h5.2l-2.6 4.5zM115.4 123.1h5.2l-2.6 4.5zM115.7 121.6h5.2l-2.6 4.5zM115.9 122.7h5.2l-2.6 4.5zM116.1 120.9h5.2l-2.6 4.5zM116.4 121.6h5.2l-2.6 4.5zM116.6 123.5h5.2l-2.6 4.5zM116.9 122.0h5.2l-2.6 4.5zM117.1 121.3h5.2l-2.6 4.5zM117.3 120.1h5.2l-2.6 4.5zM117.6 120.4h5.2l-2.6 4.5zM117.8 121.3h5.2l-2.6 4.5zM118.0 122.1h5.2l-2.6 4.5zM118.3 121.4h5.2l-2.6 4.5zM118.5 121.4h5.2l-2.6 4.5zM118.8 120.7h5.2l-2.6 4.5zM119.0 122.1h5.2l-2.6 4.5zM119.2 120.1h5.2l-2.6 4.5zM119.5 119.8h5.2l-2.6 4.5zM119.7 121.3h5.2l-2.6 4.5zM119.9 120.3h5.2l-2.6 4.5zM120.2 119.8h5.2l-2.6 4.5zM120.4 119.4h5.2l-2.6 4.5zM120.7 119.7h5.2l-2.6 4.5zM120.9 120.5h5.2l-2.6 4.5zM121.1 120.1h5.2l-2.6 4.5zM121.4 118.3h5.2l-2.6 4.5zM121.6 120.0h5.2l-2.6 4.5zM121.8 119.6h5.2l-2.6 4.5zM122.1 118.3h5.2l-2.6 4.5zM122.3 120.1h5.2l-2.6 4.5zM122.6 118.8h5.2l-2.6 4.5zM122.8 118.7h5.2l-2.6 4.5zM123.0 119.8h5.2l-2.6 4.5zM123.3 120.3h5.2l-2.6 4.5zM123.5 118.0h5.2l-2.6 4.5zM123.8 119.1h5.2l-2.6 4.5zM124.0 117.6h5.2l-2.6 4.5zM124.2 121.0h5.2l-2.6 4.5zM124.5 117.8h5.2l-2.6 4.5zM124.7 119.6h5.2l-2.6 4.5zM124.9 117.4h5.2l-2.6 4.5zM125.2 119.0h5.2l-2.6 4.5zM125.4 120.4h5.2l-2.6 4.5zM125.7 115.1h5.2l-2.6 4.5zM125.9 117.3h5.2l-2.6 4.5zM126.1 118.2h5.2l-2.6 4.5zM126.4 117.5h5.2l-2.6 4.5zM126.6 116.8h5.2l-2.6 4.5zM126.8 119.8h5.2l-2.6 4.5zM127.1 117.4h5.2l-2.6 4.5zM127.3 115.4h5.2l-2.6 4.5zM127.6 118.1h5.2l-2.6 4.5zM127.8 115.2h5.2l-2.6 4.5zM128.0 118.2h5.2l-2.6 4.5zM128.3 116.2h5.2l-2.6 4.5zM128.5 116.9h5.2l-2.6 4.5zM128.7 118.1h5.2l-2.6 4.5zM129.0 116.7h5.2l-2.6 4.5zM129.2 115.0h5.2l-2.6 4.5zM129.5 114.5h5.2l-2.6 4.5zM129.7 117.6h5.2l-2.6 4.5zM129.9 117.0h5.2l-2.6 4.5zM130.2 115.2h5.2l-2.6 4.5zM130.4 117.0h5.2l-2.6 4.5zM130.6 116.5h5.2l-2.6 4.5zM130.9 116.6h5.2l-2.6 4.5zM131.1 113.3h5.2l-2.6 4.5zM131.4 115.3h5.2l-2.6 4.5zM131.6 116.6h5.2l-2.6 4.5zM131.8 116.3h5.2l-2.6 4.5zM132.1 116.4h5.2l-2.6 4.5zM132.3 112.6h5.2l-2.6 4.5zM132.5 115.4h5.2l-2.6 4.5zM132.8 115.7h5.2l-2.6 4.5zM133.0 117.8h5.2l-2.6 4.5zM133.3 113.9h5.2l-2.6 4.5zM133.5 114.5h5.2l-2.6 4.5zM133.7 114.8h5.2l-2.6 4.5zM134.0 115.6h5.2l-2.6 4.5zM134.2 114.1h5.2l-2.6 4.5zM134.4 115.7h5.2l-2.6 4.5zM134.7 113.5h5.2l-2.6 4.5zM134.9 114.6h5.2l-2.6 4.5zM135.2 113.6h5.2l-2.6 4.5zM135.4 114.3h5.2l-2.6 4.5zM135.6 113.3h5.2l-2.6 4.5zM135.9 112.2h5.2l-2.6 4.5zM136.1 115.0h5.2l-2.6 4.5zM136.3 114.1h5.2l-2.6 4.5zM136.6 113.0h5.2l-2.6 4.5zM136.8 113.8h5.2l-2.6 4.5zM137.1 114.5h5.2l-2.6 4.5zM137.3 112.3h5.2l-2.6 4.5zM137.5 113.1h5.2l-2.6 4.5zM137.8 113.8h5.2l-2.6 4.5zM138.0 113.6h5.2l-2.6 4.5zM138.2 112.6h5.2l-2.6 4.5zM138.5 110.5h5.2l-2.6 4.5zM138.7 114.1h5.2l-2.6 4.5zM139.0 113.0h5.2l-2.6 4.5zM139.2 112.5h5.2l-2.6 4.5zM139.4 112.1h5.2l-2.6 4.5zM139.7 112.6h5.2l-2.6 4.5zM139.9 111.7h5.2l-2.6 4.5zM140.2 111.0h5.2l-2.6 4.5zM140.4 111.2h5.2l-2.6 4.5zM140.6 111.2h5.2l-2.6 4.5zM140.9 111.1h5.2l-2.6 4.5zM141.1 110.4h5.2l-2.6 4.5zM141.3 112.3h5.2l-2.6 4.5zM141.6 110.0h5.2l-2.6 4.5zM141.8 112.1h5.2l-2.6 4.5zM142.1 110.1h5.2l-2.6 4.5zM142.3 111.5h5.2l-2.6 4.5zM142.5 112.6h5.2l-2.6 4.5zM142.8 111.2h5.2l-2.6 4.5zM143.0 110.0h5.2l-2.6 4.5zM143.2 110.8h5.2l-2.6 4.5zM143.5 110.8h5.2l-2.6 4.5zM143.7 108.6h5.2l-2.6 4.5zM144.0 109.8h5.2l-2.6 4.5zM144.2 110.5h5.2l-2.6 4.5zM144.4 109.7h5.2l-2.6 4.5zM144.7 110.2h5.2l-2.6 4.5zM144.9 110.8h5.2l-2.6 4.5zM145.1 110.7h5.2l-2.6 4.5zM145.4 110.8h5.2l-2.6 4.5zM145.6 110.3h5.2l-2.6 4.5zM145.9 109.3h5.2l-2.6 4.5zM146.1 109.5h5.2l-2.6 4.5zM146.3 109.1h5.2l-2.6 4.5zM146.6 108.9h5.2l-2.6 4.5zM146.8 109.0h5.2l-2.6 4.5zM147.0 107.2h5.2l-2.6 4.5zM147.3 108.6h5.2l-2.6 4.5zM147.5 108.8h5.2l-2.6 4.5zM147.8 107.7h5.2l-2.6 4.5zM148.0 108.6h5.2l-2.6 4.5zM148.2 109.1h5.2l-2.6 4.5zM148.5 108.3h5.2l-2.6 4.5zM148.7 110.7h5.2l-2.6 4.5zM148.9 105.4h5.2l-2.6 4.5zM149.2 108.0h5.2l-2.6 4.5zM149.4 106.1h5.2l-2.6 4.5zM149.7 109.1h5.2l-2.6 4.5zM149.9 110.9h5.2l-2.6 4.5zM150.1 105.1h5.2l-2.6 4.5zM150.4 107.9h5.2l-2.6 4.5zM150.6 108.3h5.2l-2.6 4.5zM150.8 107.3h5.2l-2.6 4.5zM151.1 108.1h5.2l-2.6 4.5zM151.3 105.0h5.2l-2.6 4.5zM151.6 108.3h5.2l-2.6 4.5zM151.8 107.7h5.2l-2.6 4.5zM152.0 107.2h5.2l-2.6 4.5zM152.3 106.4h5.2l-2.6 4.5zM152.5 107.7h5.2l-2.6 4.5zM152.7 106.4h5.2l-2.6 4.5zM153.0 107.1h5.2l-2.6 4.5zM153.2 106.2h5.2l-2.6 4.5zM153.5 104.2h5.2l-2.6 4.5zM153.7 106.5h5.2l-2.6 4.5zM153.9 106.7h5.2l-2.6 4.5zM154.2 107.2h5.2l-2.6 4.5zM154.4 105.3h5.2l-2.6 4.5zM154.7 106.2h5.2l-2.6 4.5zM154.9 106.8h5.2l-2.6 4.5zM155.1 106.2h5.2l-2.6 4.5zM155.4 107.3h5.2l-2.6 4.5zM155.6 108.0h5.2l-2.6 4.5zM155.8 104.8h5.2l-2.6 4.5zM156.1 103.5h5.2l-2.6 4.5zM156.3 106.5h5.2l-2.6 4.5zM156.6 107.2h5.2l-2.6 4.5zM156.8 106.4h5.2l-2.6 4.5zM157.0 106.2h5.2l-2.6 4.5zM157.3 104.6h5.2l-2.6 4.5zM157.5 104.4h5.2l-2.6 4.5zM157.7 106.2h5.2l-2.6 4.5zM158.0 104.2h5.2l-2.6 4.5zM158.2 103.1h5.2l-2.6 4.5zM158.5 104.0h5.2l-2.6 4.5zM158.7 107.8h5.2l-2.6 4.5zM158.9 107.1h5.2l-2.6 4.5zM159.2 104.2h5.2l-2.6 4.5zM159.4 104.1h5.2l-2.6 4.5zM159.6 105.1h5.2l-2.6 4.5zM159.9 104.0h5.2l-2.6 4.5zM160.1 106.2h5.2l-2.6 4.5zM160.4 104.7h5.2l-2.6 4.5zM160.6 103.5h5.2l-2.6 4.5zM160.8 106.1h5.2l-2.6 4.5zM161.1 104.0h5.2l-2.6 4.5zM161.3 104.8h5.2l-2.6 4.5zM161.5 104.5h5.2l-2.6 4.5zM161.8 104.2h5.2l-2.6 4.5zM162.0 104.8h5.2l-2.6 4.5zM162.3 103.7h5.2l-2.6 4.5zM162.5 102.4h5.2l-2.6 4.5zM162.7 101.9h5.2l-2.6 4.5zM163.0 102.9h5.2l-2.6 4.5zM163.2 103.4h5.2l-2.6 4.5zM163.4 104.2h5.2l-2.6 4.5zM163.7 104.3h5.2l-2.6 4.5zM163.9 104.8h5.2l-2.6 4.5zM164.2 104.2h5.2l-2.6 4.5zM164.4 103.2h5.2l-2.6 4.5zM164.6 103.3h5.2l-2.6 4.5zM164.9 101.7h5.2l-2.6 4.5zM165.1 103.8h5.2l-2.6 4.5zM165.3 104.5h5.2l-2.6 4.5zM165.6 104.5h5.2l-2.6 4.5zM165.8 103.7h5.2l-2.6 4.5zM166.1 103.6h5.2l-2.6 4.5zM166.3 104.8h5.2l-2.6 4.5zM166.5 103.7h5.2l-2.6 4.5zM166.8 104.5h5.2l-2.6 4.5zM167.0 104.3h5.2l-2.6 4.5zM167.2 103.8h5.2l-2.6 4.5zM167.5 105.0h5.2l-2.6 4.5zM167.7 102.9h5.2l-2.6 4.5zM168.0 103.1h5.2l-2.6 4.5zM168.2 102.6h5.2l-2.6 4.5zM168.4 102.5h5.2l-2.6 4.5zM168.7 105.1h5.2l-2.6 4.5zM168.9 105.3h5.2l-2.6 4.5zM169.2 103.3h5.2l-2.6 4.5zM169.4 103.9h5.2l-2.6 4.5zM169.6 104.6h5.2l-2.6 4.5zM169.9 104.2h5.2l-2.6 4.5zM170.1 104.6h5.2l-2.6 4.5zM170.3 101.9h5.2l-2.6 4.5zM170.6 102.6h5.2l-2.6 4.5zM170.8 103.8h5.2l-2.6 4.5zM171.1 104.9h5.2l-2.6 4.5zM171.3 103.4h5.2l-2.6 4.5zM171.5 102.4h5.2l-2.6 4.5zM171.8 102.9h5.2l-2.6 4.5zM172.0 102.6h5.2l-2.6 4.5zM172.2 102.4h5.2l-2.6 4.5zM172.5 105.0h5.2l-2.6 4.5zM172.7 102.6h5.2l-2.6 4.5zM173.0 103.3h5.2l-2.6 4.5zM173.2 105.7h5.2l-2.6 4.5zM173.4 104.6h5.2l-2.6 4.5zM173.7 103.7h5.2l-2.6 4.5zM173.9 102.6h5.2l-2.6 4.5zM174.1 103.8h5.2l-2.6 4.5zM174.4 105.1h5.2l-2.6 4.5zM174.6 104.0h5.2l-2.6 4.5zM174.9 104.7h5.2l-2.6 4.5zM175.1 103.4h5.2l-2.6 4.5zM175.3 103.9h5.2l-2.6 4.5zM175.6 103.1h5.2l-2.6 4.5zM175.8 103.8h5.2l-2.6 4.5zM176.0 104.7h5.2l-2.6 4.5zM176.3 101.7h5.2l-2.6 4.5zM176.5 103.2h5.2l-2.6 4.5zM176.8 103.6h5.2l-2.6 4.5zM177.0 102.7h5.2l-2.6 4.5zM177.2 103.0h5.2l-2.6 4.5zM177.5 104.2h5.2l-2.6 4.5zM177.7 105.5h5.2l-2.6 4.5zM177.9 104.0h5.2l-2.6 4.5zM178.2 103.7h5.2l-2.6 4.5zM178.4 101.6h5.2l-2.6 4.5zM178.7 105.4h5.2l-2.6 4.5zM178.9 103.4h5.2l-2.6 4.5zM179.1 103.3h5.2l-2.6 4.5zM179.4 102.1h5.2l-2.6 4.5zM179.6 103.2h5.2l-2.6 4.5zM179.8 102.1h5.2l-2.6 4.5zM180.1 103.4h5.2l-2.6 4.5zM180.3 103.8h5.2l-2.6 4.5zM180.6 103.3h5.2l-2.6 4.5zM180.8 103.6h5.2l-2.6 4.5zM181.0 102.4h5.2l-2.6 4.5zM181.3 104.9h5.2l-2.6 4.5zM181.5 102.6h5.2l-2.6 4.5zM181.7 101.3h5.2l-2.6 4.5zM182.0 103.1h5.2l-2.6 4.5zM182.2 102.5h5.2l-2.6 4.5zM182.5 102.2h5.2l-2.6 4.5zM182.7 102.9h5.2l-2.6 4.5zM182.9 103.6h5.2l-2.6 4.5zM183.2 102.0h5.2l-2.6 4.5zM183.4 103.2h5.2l-2.6 4.5zM183.7 104.9h5.2l-2.6 4.5zM183.9 104.1h5.2l-2.6 4.5zM184.1 103.1h5.2l-2.6 4.5zM184.4 103.5h5.2l-2.6 4.5zM184.6 103.2h5.2l-2.6 4.5zM184.8 103.3h5.2l-2.6 4.5zM185.1 104.1h5.2l-2.6 4.5zM185.3 103.2h5.2l-2.6 4.5zM185.6 100.7h5.2l-2.6 4.5zM185.8 103.3h5.2l-2.6 4.5zM186.0 102.3h5.2l-2.6 4.5zM186.3 104.0h5.2l-2.6 4.5zM186.5 102.6h5.2l-2.6 4.5zM186.7 103.5h5.2l-2.6 4.5zM187.0 105.7h5.2l-2.6 4.5zM187.2 102.2h5.2l-2.6 4.5zM187.5 102.1h5.2l-2.6 4.5zM187.7 101.8h5.2l-2.6 4.5zM187.9 100.7h5.2l-2.6 4.5zM188.2 101.2h5.2l-2.6 4.5zM188.4 103.7h5.2l-2.6 4.5zM188.6 102.6h5.2l-2.6 4.5zM188.9 101.3h5.2l-2.6 4.5zM189.1 101.7h5.2l-2.6 4.5zM189.4 104.0h5.2l-2.6 4.5zM189.6 102.5h5.2l-2.6 4.5zM189.8 102.9h5.2l-2.6 4.5zM190.1 103.7h5.2l-2.6 4.5zM190.3 104.8h5.2l-2.6 4.5zM190.5 105.4h5.2l-2.6 4.5zM190.8 104.4h5.2l-2.6 4.5zM191.0 103.5h5.2l-2.6 4.5zM191.3 103.5h5.2l-2.6 4.5zM191.5 105.3h5.2l-2.6 4.5zM191.7 104.9h5.2l-2.6 4.5zM192.0 103.0h5.2l-2.6 4.5zM192.2 103.8h5.2l-2.6 4.5zM192.4 103.6h5.2l-2.6 4.5zM192.7 103.4h5.2l-2.6 4.5zM192.9 102.8h5.2l-2.6 4.5zM193.2 101.9h5.2l-2.6 4.5zM193.4 102.7h5.2l-2.6 4.5zM193.6 101.6h5.2l-2.6 4.5zM193.9 104.7h5.2l-2.6 4.5zM194.1 103.9h5.2l-2.6 4.5zM194.3 102.0h5.2l-2.6 4.5zM194.6 104.8h5.2l-2.6 4.5zM194.8 104.3h5.2l-2.6 4.5zM195.1 101.2h5.2l-2.6 4.5zM195.3 105.3h5.2l-2.6 4.5zM195.5 104.2h5.2l-2.6 4.5zM195.8 105.6h5.2l-2.6 4.5zM196.0 102.0h5.2l-2.6 4.5zM196.2 103.9h5.2l-2.6 4.5zM196.5 103.8h5.2l-2.6 4.5zM196.7 103.5h5.2l-2.6 4.5zM197.0 103.5h5.2l-2.6 4.5zM197.2 104.5h5.2l-2.6 4.5zM197.4 101.7h5.2l-2.6 4.5zM197.7 101.9h5.2l-2.6 4.5zM197.9 101.8h5.2l-2.6 4.5zM198.2 102.7h5.2l-2.6 4.5zM198.4 102.6h5.2l-2.6 4.5zM198.6 103.7h5.2l-2.6 4.5zM198.9 103.6h5.2l-2.6 4.5zM199.1 103.3h5.2l-2.6 4.5zM199.3 102.6h5.2l-2.6 4.5zM199.6 102.8h5.2l-2.6 4.5zM199.8 104.4h5.2l-2.6 4.5zM200.1 104.1h5.2l-2.6 4.5zM200.3 103.4h5.2l-2.6 4.5zM200.5 103.0h5.2l-2.6 4.5zM200.8 105.0h5.2l-2.6 4.5zM201.0 102.7h5.2l-2.6 4.5zM201.2 104.0h5.2l-2.6 4.5zM201.5 104.6h5.2l-2.6 4.5zM201.7 103.0h5.2l-2.6 4.5zM202.0 104.2h5.2l-2.6 4.5zM202.2 102.1h5.2l-2.6 4.5zM202.4 104.4h5.2l-2.6 4.5zM202.7 103.5h5.2l-2.6 4.5zM202.9 101.6h5.2l-2.6 4.5zM203.1 104.0h5.2l-2.6 4.5zM203.4 102.3h5.2l-2.6 4.5zM203.6 104.7h5.2l-2.6 4.5zM203.9 102.6h5.2l-2.6 4.5zM204.1 103.1h5.2l-2.6 4.5zM204.3 103.6h5.2l-2.6 4.5zM204.6 102.9h5.2l-2.6 4.5zM204.8 103.6h5.2l-2.6 4.5zM205.0 102.7h5.2l-2.6 4.5zM205.3 104.0h5.2l-2.6 4.5zM205.5 103.3h5.2l-2.6 4.5zM205.8 103.5h5.2l-2.6 4.5zM206.0 100.3h5.2l-2.6 4.5zM206.2 104.6h5.2l-2.6 4.5zM206.5 103.3h5.2l-2.6 4.5zM206.7 101.3h5.2l-2.6 4.5zM206.9 103.4h5.2l-2.6 4.5zM207.2 103.8h5.2l-2.6 4.5zM207.4 104.5h5.2l-2.6 4.5zM207.7 102.1h5.2l-2.6 4.5zM207.9 105.0h5.2l-2.6 4.5zM208.1 103.1h5.2l-2.6 4.5zM208.4 105.9h5.2l-2.6 4.5zM208.6 103.1h5.2l-2.6 4.5zM208.8 104.1h5.2l-2.6 4.5zM209.1 102.9h5.2l-2.6 4.5zM209.3 102.1h5.2l-2.6 4.5zM209.6 104.5h5.2l-2.6 4.5zM209.8 104.3h5.2l-2.6 4.5zM210.0 105.0h5.2l-2.6 4.5zM210.3 104.3h5.2l-2.6 4.5zM210.5 102.7h5.2l-2.6 4.5zM210.7 101.5h5.2l-2.6 4.5zM211.0 102.6h5.2l-2.6 4.5zM211.2 102.6h5.2l-2.6 4.5zM211.5 102.4h5.2l-2.6 4.5zM211.7 104.0h5.2l-2.6 4.5zM211.9 103.7h5.2l-2.6 4.5zM212.2 103.0h5.2l-2.6 4.5zM212.4 103.5h5.2l-2.6 4.5zM212.7 103.1h5.2l-2.6 4.5zM212.9 103.5h5.2l-2.6 4.5zM213.1 104.1h5.2l-2.6 4.5zM213.4 104.4h5.2l-2.6 4.5zM213.6 102.6h5.2l-2.6 4.5zM213.8 101.7h5.2l-2.6 4.5zM214.1 104.9h5.2l-2.6 4.5zM214.3 103.4h5.2l-2.6 4.5zM214.6 104.5h5.2l-2.6 4.5zM214.8 101.5h5.2l-2.6 4.5zM215.0 102.9h5.2l-2.6 4.5zM215.3 103.3h5.2l-2.6 4.5zM215.5 101.7h5.2l-2.6 4.5zM215.7 102.7h5.2l-2.6 4.5zM216.0 104.1h5.2l-2.6 4.5zM216.2 104.5h5.2l-2.6 4.5zM216.5 105.1h5.2l-2.6 4.5zM216.7 102.4h5.2l-2.6 4.5zM216.9 101.8h5.2l-2.6 4.5zM217.2 103.9h5.2l-2.6 4.5zM217.4 104.3h5.2l-2.6 4.5zM217.6 103.5h5.2l-2.6 4.5zM217.9 101.9h5.2l-2.6 4.5zM218.1 104.2h5.2l-2.6 4.5zM218.4 104.2h5.2l-2.6 4.5zM218.6 103.9h5.2l-2.6 4.5zM218.8 102.8h5.2l-2.6 4.5zM219.1 103.6h5.2l-2.6 4.5zM219.3 104.2h5.2l-2.6 4.5zM219.5 102.7h5.2l-2.6 4.5zM219.8 101.3h5.2l-2.6 4.5zM220.0 103.7h5.2l-2.6 4.5zM220.3 103.8h5.2l-2.6 4.5zM220.5 103.3h5.2l-2.6 4.5zM220.7 104.3h5.2l-2.6 4.5zM221.0 102.7h5.2l-2.6 4.5zM221.2 103.2h5.2l-2.6 4.5zM221.4 103.0h5.2l-2.6 4.5zM221.7 103.9h5.2l-2.6 4.5zM221.9 105.1h5.2l-2.6 4.5zM222.2 103.0h5.2l-2.6 4.5zM222.4 105.6h5.2l-2.6 4.5zM222.6 105.0h5.2l-2.6 4.5zM222.9 104.2h5.2l-2.6 4.5zM223.1 104.0h5.2l-2.6 4.5zM223.3 105.3h5.2l-2.6 4.5zM223.6 103.1h5.2l-2.6 4.5zM223.8 103.2h5.2l-2.6 4.5zM224.1 102.1h5.2l-2.6 4.5zM224.3 103.8h5.2l-2.6 4.5zM224.5 104.8h5.2l-2.6 4.5zM224.8 103.9h5.2l-2.6 4.5zM225.0 103.8h5.2l-2.6 4.5zM225.2 103.1h5.2l-2.6 4.5zM225.5 103.5h5.2l-2.6 4.5zM225.7 101.7h5.2l-2.6 4.5zM226.0 104.5h5.2l-2.6 4.5zM226.2 102.9h5.2l-2.6 4.5zM226.4 102.1h5.2l-2.6 4.5zM226.7 102.5h5.2l-2.6 4.5zM226.9 102.4h5.2l-2.6 4.5zM227.1 104.3h5.2l-2.6 4.5zM227.4 104.5h5.2l-2.6 4.5zM227.6 101.8h5.2l-2.6 4.5zM227.9 104.3h5.2l-2.6 4.5zM228.1 104.3h5.2l-2.6 4.5zM228.3 102.7h5.2l-2.6 4.5zM228.6 101.7h5.2l-2.6 4.5zM228.8 102.5h5.2l-2.6 4.5zM229.1 102.6h5.2l-2.6 4.5zM229.3 103.7h5.2l-2.6 4.5zM229.5 102.9h5.2l-2.6 4.5zM229.8 101.1h5.2l-2.6 4.5zM230.0 103.6h5.2l-2.6 4.5zM230.2 101.6h5.2l-2.6 4.5zM230.5 104.3h5.2l-2.6 4.5zM230.7 102.0h5.2l-2.6 4.5zM231.0 102.5h5.2l-2.6 4.5zM231.2 102.4h5.2l-2.6 4.5zM231.4 102.7h5.2l-2.6 4.5zM231.7 104.7h5.2l-2.6 4.5zM231.9 104.2h5.2l-2.6 4.5zM232.1 104.0h5.2l-2.6 4.5zM232.4 103.7h5.2l-2.6 4.5zM232.6 101.6h5.2l-2.6 4.5zM232.9 102.7h5.2l-2.6 4.5zM233.1 102.7h5.2l-2.6 4.5zM233.3 102.2h5.2l-2.6 4.5zM233.6 103.9h5.2l-2.6 4.5zM233.8 102.5h5.2l-2.6 4.5zM234.0 102.5h5.2l-2.6 4.5zM234.3 102.2h5.2l-2.6 4.5zM234.5 101.0h5.2l-2.6 4.5zM234.8 104.0h5.2l-2.6 4.5zM235.0 104.8h5.2l-2.6 4.5zM235.2 103.5h5.2l-2.6 4.5zM235.5 102.2h5.2l-2.6 4.5zM235.7 100.3h5.2l-2.6 4.5zM235.9 103.5h5.2l-2.6 4.5zM236.2 104.6h5.2l-2.6 4.5zM236.4 103.6h5.2l-2.6 4.5zM236.7 104.3h5.2l-2.6 4.5zM236.9 104.9h5.2l-2.6 4.5zM237.1 104.5h5.2l-2.6 4.5zM237.4 102.8h5.2l-2.6 4.5zM237.6 104.5h5.2l-2.6 4.5zM237.8 104.2h5.2l-2.6 4.5zM238.1 101.6h5.2l-2.6 4.5zM238.3 102.9h5.2l-2.6 4.5zM238.6 101.7h5.2l-2.6 4.5zM238.8 103.2h5.2l-2.6 4.5zM239.0 103.9h5.2l-2.6 4.5zM239.3 102.1h5.2l-2.6 4.5zM239.5 101.0h5.2l-2.6 4.5zM239.7 104.7h5.2l-2.6 4.5zM240.0 103.7h5.2l-2.6 4.5zM240.2 104.9h5.2l-2.6 4.5zM240.5 101.9h5.2l-2.6 4.5zM240.7 104.5h5.2l-2.6 4.5zM240.9 105.6h5.2l-2.6 4.5zM241.2 105.5h5.2l-2.6 4.5zM241.4 103.1h5.2l-2.6 4.5zM241.6 103.6h5.2l-2.6 4.5zM241.9 103.2h5.2l-2.6 4.5zM242.1 104.5h5.2l-2.6 4.5zM242.4 104.5h5.2l-2.6 4.5zM242.6 103.5h5.2l-2.6 4.5zM242.8 101.9h5.2l-2.6 4.5zM243.1 104.3h5.2l-2.6 4.5zM243.3 103.0h5.2l-2.6 4.5zM243.6 104.2h5.2l-2.6 4.5zM243.8 103.8h5.2l-2.6 4.5zM244.0 105.3h5.2l-2.6 4.5zM244.3 104.8h5.2l-2.6 4.5zM244.5 103.1h5.2l-2.6 4.5zM244.7 104.0h5.2l-2.6 4.5zM245.0 105.6h5.2l-2.6 4.5zM245.2 103.1h5.2l-2.6 4.5zM245.5 104.2h5.2l-2.6 4.5zM245.7 105.0h5.2l-2.6 4.5zM245.9 105.1h5.2l-2.6 4.5zM246.2 104.3h5.2l-2.6 4.5zM246.4 102.3h5.2l-2.6 4.5zM246.6 102.4h5.2l-2.6 4.5zM246.9 104.1h5.2l-2.6 4.5zM247.1 104.3h5.2l-2.6 4.5zM247.4 106.7h5.2l-2.6 4.5zM247.6 102.9h5.2l-2.6 4.5zM247.8 105.2h5.2l-2.6 4.5zM248.1 104.8h5.2l-2.6 4.5zM248.3 102.1h5.2l-2.6 4.5zM248.5 103.1h5.2l-2.6 4.5zM248.8 104.2h5.2l-2.6 4.5zM249.0 103.5h5.2l-2.6 4.5zM249.3 103.9h5.2l-2.6 4.5zM249.5 104.6h5.2l-2.6 4.5zM249.7 103.2h5.2l-2.6 4.5zM250.0 104.6h5.2l-2.6 4.5zM250.2 103.4h5.2l-2.6 4.5zM250.4 103.6h5.2l-2.6 4.5zM250.7 104.8h5.2l-2.6 4.5zM250.9 103.6h5.2l-2.6 4.5zM251.2 104.5h5.2l-2.6 4.5zM251.4 106.0h5.2l-2.6 4.5zM251.6 104.3h5.2l-2.6 4.5zM251.9 104.1h5.2l-2.6 4.5zM252.1 105.1h5.2l-2.6 4.5zM252.3 103.9h5.2l-2.6 4.5zM252.6 105.6h5.2l-2.6 4.5zM252.8 103.0h5.2l-2.6 4.5zM253.1 105.1h5.2l-2.6 4.5zM253.3 103.9h5.2l-2.6 4.5zM253.5 103.6h5.2l-2.6 4.5zM253.8 106.4h5.2l-2.6 4.5zM254.0 103.6h5.2l-2.6 4.5zM254.2 106.5h5.2l-2.6 4.5zM254.5 105.3h5.2l-2.6 4.5zM254.7 106.2h5.2l-2.6 4.5zM255.0 103.5h5.2l-2.6 4.5zM255.2 105.9h5.2l-2.6 4.5zM255.4 106.2h5.2l-2.6 4.5zM255.7 104.5h5.2l-2.6 4.5zM255.9 104.5h5.2l-2.6 4.5zM256.1 107.4h5.2l-2.6 4.5zM256.4 104.9h5.2l-2.6 4.5zM256.6 104.3h5.2l-2.6 4.5zM256.9 104.1h5.2l-2.6 4.5zM257.1 105.3h5.2l-2.6 4.5zM257.3 105.2h5.2l-2.6 4.5zM257.6 105.0h5.2l-2.6 4.5zM257.8 106.8h5.2l-2.6 4.5zM258.1 104.5h5.2l-2.6 4.5zM258.3 105.4h5.2l-2.6 4.5zM258.5 106.5h5.2l-2.6 4.5zM258.8 103.9h5.2l-2.6 4.5zM259.0 106.1h5.2l-2.6 4.5zM259.2 107.0h5.2l-2.6 4.5zM259.5 103.5h5.2l-2.6 4.5zM259.7 103.8h5.2l-2.6 4.5zM260.0 103.9h5.2l-2.6 4.5zM260.2 103.1h5.2l-2.6 4.5zM260.4 105.6h5.2l-2.6 4.5zM260.7 103.1h5.2l-2.6 4.5zM260.9 105.7h5.2l-2.6 4.5zM261.1 106.8h5.2l-2.6 4.5zM261.4 103.4h5.2l-2.6 4.5zM261.6 104.9h5.2l-2.6 4.5zM261.9 103.1h5.2l-2.6 4.5zM262.1 106.1h5.2l-2.6 4.5zM262.3 104.5h5.2l-2.6 4.5zM262.6 105.0h5.2l-2.6 4.5zM262.8 105.4h5.2l-2.6 4.5zM263.0 106.0h5.2l-2.6 4.5zM263.3 105.0h5.2l-2.6 4.5zM263.5 105.4h5.2l-2.6 4.5zM263.8 104.8h5.2l-2.6 4.5zM264.0 105.6h5.2l-2.6 4.5zM264.2 104.2h5.2l-2.6 4.5zM264.5 105.6h5.2l-2.6 4.5zM264.7 103.4h5.2l-2.6 4.5zM264.9 105.0h5.2l-2.6 4.5zM265.2 107.7h5.2l-2.6 4.5zM265.4 105.7h5.2l-2.6 4.5zM265.7 104.2h5.2l-2.6 4.5zM265.9 105.9h5.2l-2.6 4.5zM266.1 104.6h5.2l-2.6 4.5zM266.4 103.9h5.2l-2.6 4.5zM266.6 104.9h5.2l-2.6 4.5zM266.8 106.5h5.2l-2.6 4.5zM267.1 106.2h5.2l-2.6 4.5zM267.3 105.7h5.2l-2.6 4.5zM267.6 104.8h5.2l-2.6 4.5zM267.8 104.6h5.2l-2.6 4.5zM268.0 107.3h5.2l-2.6 4.5zM268.3 106.1h5.2l-2.6 4.5zM268.5 104.8h5.2l-2.6 4.5zM268.7 103.6h5.2l-2.6 4.5zM269.0 104.4h5.2l-2.6 4.5zM269.2 108.7h5.2l-2.6 4.5zM269.5 104.7h5.2l-2.6 4.5zM269.7 105.9h5.2l-2.6 4.5zM269.9 106.3h5.2l-2.6 4.5zM270.2 105.9h5.2l-2.6 4.5zM270.4 105.8h5.2l-2.6 4.5zM270.6 104.6h5.2l-2.6 4.5zM270.9 105.0h5.2l-2.6 4.5zM271.1 108.0h5.2l-2.6 4.5zM271.4 105.3h5.2l-2.6 4.5zM271.6 107.1h5.2l-2.6 4.5z" fill="#52ef72"/>
<path d="M62.5 45.1h0M62.6 72.2h0M62.8 90.7h0M62.9 105.9h0M63.0 116.6h0M63.1 124.6h0M63.2 130.7h0M63.3 136.0h0" stroke="#eb8228" stroke-width="4.4" stroke-linecap="square" fill="none"/>
<path d="M63.4 137.7h0M63.8 139.0h0M64.2 139.8h0M64.6 142.8h0M65.0 147.2h0M65.5 153.6h0M65.9 159.1h0M66.3 161.3h0M66.7 163.9h0M67.1 165.3h0M67.5 167.3h0M67.9 169.8h0M68.3 169.7h0M68.8 172.2h0M69.2 172.9h0M69.6 173.8h0M70.0 175.5h0M70.4 177.3h0M70.8 177.3h0M71.2 178.6h0M71.7 177.8h0M72.1 178.2h0M72.5 180.1h0M72.9 180.0h0M73.3 180.7h0M73.7 180.1h0M74.1 181.2h0M74.5 181.3h0M75.0 181.8h0M75.4 181.8h0M75.8 182.4h0M76.3 181.5h0M76.8 181.4h0M77.3 181.2h0M77.8 182.5h0M78.3 181.6h0M78.8 181.5h0M79.3 181.6h0M79.8 181.9h0M80.3 181.5h0M80.8 182.0h0M81.3 181.9h0M81.8 182.0h0M82.3 181.8h0M82.8 182.3h0M83.3 182.0h0M83.7 182.3h0M84.2 182.4h0M84.7 182.4h0M85.2 181.2h0M85.7 182.0h0M86.2 181.9h0M86.7 182.7h0M87.2 181.5h0M87.7 181.9h0M88.2 182.1h0M88.7 182.1h0M89.2 182.8h0M89.7 182.0h0M90.2 182.7h0M90.7 181.5h0M91.2 181.4h0M91.7 182.9h0M92.2 182.5h0M92.7 182.5h0M93.2 182.3h0M93.7 182.5h0M94.2 181.7h0M94.7 182.7h0M95.2 182.0h0M95.7 182.8h0M96.2 182.3h0M96.7 181.3h0M97.2 181.6h0M97.7 182.8h0M98.2 182.2h0M98.7 182.1h0M99.2 182.4h0M99.7 182.1h0M100.2 182.0h0M100.7 182.3h0M101.2 182.3h0M101.7 183.0h0M102.1 182.3h0M102.6 183.2h0M103.1 183.2h0M103.6 183.1h0M104.1 182.8h0M104.6 182.3h0M105.1 182.3h0M105.6 182.2h0M106.1 181.9h0M106.6 182.2h0M107.1 181.9h0M107.6 183.1h0M108.1 182.5h0M108.6 182.0h0M109.1 181.3h0M109.6 182.2h0M110.1 182.1h0M110.6 181.7h0M111.1 181.7h0M111.6 181.1h0M112.1 182.5h0M112.6 182.2h0M113.1 183.6h0M113.6 182.2h0M114.1 182.2h0M114.6 183.0h0M115.1 182.3h0M115.6 182.3h0M116.1 182.1h0M116.6 182.0h0M117.1 183.0h0M117.6 182.8h0M118.1 183.1h0M118.6 182.1h0M119.1 182.3h0M119.6 181.8h0M120.0 182.7h0M120.5 181.6h0M121.0 182.5h0M121.5 182.8h0M122.0 183.0h0M122.5 181.8h0M123.0 182.8h0M123.5 181.9h0M124.0 181.9h0M124.5 181.6h0M125.0 182.8h0M125.5 183.1h0M126.0 182.0h0M126.5 181.9h0M127.0 182.1h0M127.5 183.5h0M128.0 182.8h0M128.5 182.0h0M129.0 181.4h0M129.5 181.9h0M130.0 182.9h0M130.5 183.2h0M131.0 182.1h0M131.5 181.9h0M132.0 182.0h0M132.5 181.3h0M133.0 182.7h0M133.5 181.7h0M134.0 182.8h0M134.5 181.4h0M135.0 181.6h0M135.5 182.4h0M136.0 181.9h0M136.5 182.7h0M137.0 182.3h0M137.5 181.7h0M138.0 182.6h0M138.4 182.7h0M138.9 181.3h0M139.4 183.2h0M139.9 182.5h0M140.4 182.6h0M140.9 181.3h0M141.4 181.9h0M141.9 182.1h0M142.4 182.8h0M142.9 181.5h0M143.4 181.8h0M143.9 181.3h0M144.4 182.1h0M144.9 182.4h0M145.4 181.4h0M145.9 182.0h0M146.4 182.5h0M146.9 183.1h0M147.4 182.6h0M147.9 182.1h0M148.4 181.7h0M148.9 181.8h0M149.4 181.9h0M149.9 182.3h0M150.4 182.2h0M150.9 183.1h0M151.4 182.4h0M151.9 181.7h0M152.4 183.0h0M152.9 182.7h0M153.4 182.3h0M153.9 181.9h0M154.4 181.3h0M154.9 181.8h0M155.4 182.7h0M155.9 181.9h0M156.3 181.6h0M156.8 182.4h0M157.3 182.4h0M157.8 182.6h0M158.3 182.6h0M158.8 183.0h0M159.3 181.8h0M159.8 182.8h0M160.3 181.8h0M160.8 182.6h0M161.3 182.4h0M161.8 182.4h0M162.3 182.7h0M162.8 182.3h0M163.3 182.8h0M163.8 182.7h0M164.3 182.3h0M164.8 182.0h0M165.3 181.9h0M165.8 182.0h0M166.3 182.2h0M166.8 182.3h0M167.3 183.8h0M167.8 182.6h0M168.3 182.6h0M168.8 181.8h0M169.3 181.9h0M169.8 182.1h0M170.3 182.4h0M170.8 181.7h0M171.3 183.1h0M171.8 182.0h0M172.3 182.8h0M172.8 181.1h0M173.3 182.3h0M173.8 182.4h0M174.3 182.4h0M174.7 182.6h0M175.2 182.4h0M175.7 182.3h0M176.2 181.3h0M176.7 181.9h0M177.2 181.1h0M177.7 182.6h0M178.2 182.4h0M178.7 182.2h0M179.2 181.9h0M179.7 182.0h0M180.2 183.2h0M180.7 183.1h0M181.2 182.2h0M181.7 182.9h0M182.2 181.5h0M182.7 181.3h0M183.2 182.0h0M183.7 181.8h0M184.2 182.0h0M184.7 182.4h0M185.2 183.8h0M185.7 181.9h0M186.2 182.3h0M186.7 182.4h0M187.2 182.2h0M187.7 182.7h0M188.2 183.2h0M188.7 181.6h0M189.2 182.3h0M189.7 182.1h0M190.2 182.4h0M190.7 181.5h0M191.2 181.4h0M191.7 181.1h0M192.2 182.5h0M192.6 182.4h0M193.1 182.3h0M193.6 181.1h0M194.1 182.1h0M194.6 181.9h0M195.1 181.6h0M195.6 181.8h0M196.1 182.6h0M196.6 182.5h0M197.1 182.3h0M197.6 182.5h0M198.1 182.0h0M198.6 182.3h0M199.1 182.3h0M199.6 182.5h0M200.1 182.2h0M200.6 182.2h0M201.1 182.2h0M201.6 181.9h0M202.1 183.4h0M202.6 182.5h0M203.1 182.5h0M203.6 183.4h0M204.1 183.0h0M204.6 181.5h0M205.1 182.6h0M205.6 182.7h0M206.1 183.2h0M206.6 182.9h0M207.1 182.7h0M207.6 181.7h0M208.1 181.8h0M208.6 182.4h0M209.1 182.5h0M209.6 181.8h0M210.1 182.1h0M210.6 182.1h0M211.0 182.3h0M211.5 182.4h0M212.0 182.1h0M212.5 181.6h0M213.0 182.9h0M213.5 183.1h0M214.0 182.2h0M214.5 182.8h0M215.0 182.5h0M215.5 182.6h0M216.0 182.5h0M216.5 181.9h0M217.0 182.6h0M217.5 182.8h0M218.0 181.8h0M218.5 183.2h0M219.0 183.3h0M219.5 183.2h0M220.0 183.3h0M220.5 182.6h0M221.0 182.1h0M221.5 182.0h0M222.0 181.9h0M222.5 182.3h0M223.0 182.2h0M223.5 182.6h0M224.0 181.3h0M224.5 183.4h0M225.0 183.4h0M225.5 182.3h0M226.0 182.6h0M226.5 182.5h0M227.0 182.4h0M227.5 182.2h0M228.0 182.2h0M228.5 181.9h0M228.9 182.4h0M229.4 182.3h0M229.9 182.4h0M230.4 181.8h0M230.9 182.3h0M231.4 182.3h0M231.9 182.6h0M232.4 181.7h0M232.9 182.5h0M233.4 182.8h0M233.9 182.6h0M234.4 182.1h0M234.9 182.0h0M235.4 182.1h0M235.9 182.6h0M236.4 183.0h0M236.9 182.2h0M237.4 181.9h0M237.9 182.5h0M238.4 182.4h0M238.9 181.8h0M239.4 181.9h0M239.9 182.2h0M240.4 182.6h0M240.9 181.7h0M241.4 181.8h0M241.9 182.5h0M242.4 181.7h0M242.9 182.3h0M243.4 182.4h0M243.9 182.2h0M244.4 181.8h0M244.9 182.2h0M245.4 182.1h0M245.9 182.4h0M246.4 181.8h0M246.9 182.8h0M247.3 181.4h0M247.8 182.2h0M248.3 182.3h0M248.8 182.7h0M249.3 182.0h0M249.8 182.5h0M250.3 182.0h0M250.8 182.6h0M251.3 183.1h0M251.8 182.1h0M252.3 182.5h0M252.8 181.8h0M253.3 182.8h0M253.8 182.9h0M254.3 182.3h0M254.8 181.7h0M255.3 182.5h0M255.8 182.8h0M256.3 182.8h0M256.8 182.7h0M257.3 181.3h0M257.8 181.9h0M258.3 183.0h0M258.8 181.7h0M259.3 182.8h0M259.8 183.2h0M260.3 182.6h0M260.8 182.8h0M261.3 182.1h0M261.8 181.7h0M262.3 182.2h0M262.8 182.2h0M263.3 182.2h0M263.8 182.6h0M264.3 182.2h0M264.8 182.4h0M265.2 182.5h0M265.7 182.3h0M266.2 183.2h0M266.7 182.5h0M267.2 182.3h0M267.7 182.2h0M268.2 182.0h0M268.7 182.9h0M269.2 182.3h0M269.7 181.7h0M270.2 182.0h0M270.7 182.2h0M271.2 182.0h0M271.7 182.8h0M272.2 181.7h0M272.7 182.5h0M273.2 182.3h0M273.7 181.7h0M274.2 182.3h0" stroke="#eb8228" stroke-width="4.4" stroke-linecap="square" fill="none"/>
<path d="M60.40,181.70H274.20" stroke="#ff1a0a" stroke-width="3.4" stroke-dasharray="10.60 18.70" stroke-dashoffset="-1.70" stroke-linecap="round" fill="none"/>
<path d="M410.3 188.8h0M410.8 188.9h0M411.3 188.7h0M411.8 188.9h0M412.3 188.4h0M412.8 188.5h0M413.3 189.0h0M413.9 189.1h0M414.4 188.8h0M414.9 188.6h0M415.4 189.1h0M415.9 188.3h0M416.4 188.6h0M416.9 188.9h0M417.4 188.9h0M417.9 188.5h0M418.4 188.3h0M418.9 189.1h0M419.5 188.8h0M420.0 188.5h0M420.5 188.8h0M421.0 189.0h0M421.5 188.1h0M422.0 189.0h0M422.5 188.9h0M423.0 188.2h0M423.5 188.9h0M424.0 188.3h0M424.5 189.0h0M425.1 188.8h0M425.6 189.3h0M426.1 188.6h0M426.6 188.7h0M427.1 189.0h0M427.6 188.5h0M428.1 188.5h0M428.6 188.6h0M429.1 188.7h0M429.6 188.4h0M430.1 188.8h0M430.7 188.8h0M431.2 188.7h0M431.7 189.1h0M432.2 188.6h0M432.7 189.0h0M433.2 188.5h0M433.7 188.9h0M434.2 188.2h0M434.7 188.7h0M435.2 188.6h0M435.8 188.5h0M436.3 188.5h0M436.8 188.6h0M437.3 188.5h0M437.8 188.1h0M438.3 188.5h0M438.8 188.5h0M439.3 188.5h0M439.8 188.4h0M440.3 188.6h0M440.8 188.8h0M441.4 188.6h0M441.9 188.5h0M442.4 189.0h0M442.9 188.9h0M443.4 188.8h0M443.9 188.9h0M444.4 188.5h0M444.9 188.6h0M445.4 188.9h0M445.9 188.5h0M446.4 188.6h0M447.0 188.7h0M447.5 188.7h0M448.0 188.5h0M448.5 188.8h0M449.0 188.5h0M449.5 188.8h0M450.0 188.8h0M450.5 188.7h0M451.0 188.7h0M451.5 188.3h0M452.1 188.2h0M452.6 188.4h0M453.1 188.7h0M453.6 188.9h0M454.1 188.2h0M454.6 188.6h0M455.1 188.3h0M455.6 188.4h0M456.1 188.5h0M456.6 188.7h0M457.1 188.6h0M457.7 188.8h0M458.2 188.3h0M458.7 188.7h0M459.2 188.7h0M459.7 188.5h0M460.2 188.6h0M460.7 188.4h0M461.2 188.2h0M461.7 188.4h0M462.2 188.3h0M462.7 189.2h0M463.3 188.4h0M463.8 188.9h0M464.3 188.5h0M464.8 188.6h0M465.3 188.7h0M465.8 188.3h0M466.3 188.7h0M466.8 188.6h0M467.3 188.1h0M467.8 188.6h0M468.4 188.6h0M468.9 188.6h0M469.4 188.8h0M469.9 188.3h0M470.4 188.6h0M470.9 188.6h0M471.4 188.2h0M471.9 188.7h0M472.4 188.1h0M472.9 188.1h0M473.4 188.6h0M474.0 188.2h0M474.5 188.4h0M475.0 188.0h0M475.5 188.4h0M476.0 188.1h0M476.5 188.5h0M477.0 188.0h0M477.5 188.5h0M478.0 188.3h0M478.5 188.4h0M479.0 188.4h0M479.6 188.4h0M480.1 188.1h0M480.6 187.7h0M481.1 188.4h0M481.6 188.1h0M482.1 188.1h0M482.6 188.2h0M483.1 187.4h0M483.6 187.6h0M484.1 187.6h0M484.6 187.3h0M485.2 187.6h0M485.7 187.3h0M486.2 187.0h0M486.7 186.9h0M487.2 187.1h0M487.7 186.4h0M488.2 186.4h0M488.7 186.2h0M489.2 184.4h0M489.7 184.6h0M490.3 184.9h0M490.8 184.8h0M491.3 184.7h0M491.8 184.4h0M492.3 184.2h0M492.8 182.6h0M493.3 181.9h0M493.8 181.7h0M494.3 180.1h0M494.8 180.2h0M495.3 177.8h0M495.9 178.3h0M496.4 177.0h0M496.9 175.1h0M497.4 176.1h0M497.9 174.8h0M498.4 173.4h0M498.9 171.4h0M499.4 170.3h0M499.9 170.1h0M500.4 167.3h0M500.9 164.3h0M501.5 164.5h0M502.0 162.9h0M502.5 162.0h0M503.0 160.3h0M503.5 158.5h0M504.0 156.9h0M504.5 156.5h0M505.0 153.5h0M505.5 153.9h0M506.0 150.9h0M506.6 149.0h0M507.1 148.7h0M507.6 147.1h0M508.1 144.7h0M508.6 144.3h0M509.1 141.3h0M509.6 140.4h0M510.1 140.1h0M510.6 137.8h0M511.1 135.8h0M511.6 135.5h0M512.2 134.3h0M512.7 132.4h0M513.2 129.9h0M513.7 129.4h0M514.2 128.4h0M514.7 127.2h0M515.2 126.9h0M515.7 124.8h0M516.2 123.8h0M516.7 123.3h0M517.2 123.2h0M517.8 121.1h0M518.3 121.6h0M518.8 118.3h0M519.3 119.6h0M519.8 117.9h0M520.3 117.8h0M520.8 117.1h0M521.3 115.1h0M521.8 115.0h0M522.3 114.7h0M522.8 114.5h0M523.4 113.2h0M523.9 112.8h0M524.4 110.9h0M524.9 115.2h0M525.4 111.9h0M525.9 111.5h0M526.4 109.7h0M526.9 111.9h0M527.4 109.9h0M527.9 111.6h0M528.5 110.6h0M529.0 109.3h0M529.5 109.6h0M530.0 107.3h0M530.5 108.0h0M531.0 107.6h0M531.5 106.8h0M532.0 108.1h0M532.5 107.8h0M533.0 109.3h0M533.5 104.2h0M534.1 106.9h0M534.6 106.6h0M535.1 106.9h0M535.6 107.8h0M536.1 107.6h0M536.6 107.1h0M537.1 106.5h0M537.6 107.4h0M538.1 107.2h0M538.6 104.8h0M539.1 106.3h0M539.7 105.0h0M540.2 105.1h0M540.7 106.4h0M541.2 106.2h0M541.7 106.2h0M542.2 105.1h0M542.7 105.7h0M543.2 104.8h0M543.7 106.1h0M544.2 106.3h0M544.8 107.3h0M545.3 106.7h0M545.8 104.5h0M546.3 104.8h0M546.8 104.2h0M547.3 105.5h0M547.8 107.2h0M548.3 105.8h0M548.8 102.7h0M549.3 103.7h0M549.8 103.6h0M550.4 105.4h0M550.9 104.8h0M551.4 105.1h0M551.9 106.6h0M552.4 103.8h0M552.9 103.7h0M553.4 106.6h0M553.9 104.9h0M554.4 103.6h0M554.9 102.3h0M555.4 102.8h0M556.0 101.7h0M556.5 104.3h0M557.0 104.3h0M557.5 105.2h0M558.0 104.0h0M558.5 103.3h0M559.0 103.2h0M559.5 106.0h0M560.0 102.1h0M560.5 104.1h0M561.1 103.9h0M561.6 104.5h0M562.1 103.5h0M562.6 104.4h0M563.1 104.7h0M563.6 103.7h0M564.1 103.4h0M564.6 103.7h0M565.1 102.8h0M565.6 103.6h0M566.1 103.5h0M566.7 104.0h0M567.2 105.2h0M567.7 105.2h0M568.2 103.3h0M568.7 104.4h0M569.2 104.1h0M569.7 104.6h0M570.2 103.8h0M570.7 104.1h0M571.2 103.3h0M571.7 102.9h0M572.3 104.7h0M572.8 105.1h0M573.3 104.4h0M573.8 104.2h0M574.3 104.0h0M574.8 103.3h0M575.3 101.8h0M575.8 104.4h0M576.3 103.9h0M576.8 103.1h0M577.3 102.7h0M577.9 105.0h0M578.4 101.8h0M578.9 105.5h0M579.4 104.3h0M579.9 106.2h0M580.4 102.9h0M580.9 103.6h0M581.4 103.1h0M581.9 103.8h0M582.4 103.4h0M583.0 102.8h0M583.5 104.7h0M584.0 102.7h0M584.5 103.0h0M585.0 104.1h0M585.5 102.9h0M586.0 103.0h0M586.5 103.9h0M587.0 103.1h0M587.5 102.1h0M588.0 103.3h0M588.6 103.2h0M589.1 105.2h0M589.6 102.2h0M590.1 104.4h0M590.6 102.5h0M591.1 103.0h0M591.6 103.0h0M592.1 103.6h0M592.6 104.2h0M593.1 105.1h0M593.6 102.6h0M594.2 104.6h0M594.7 104.3h0M595.2 104.1h0M595.7 102.4h0M596.2 104.1h0M596.7 103.1h0M597.2 103.5h0M597.7 102.9h0M598.2 103.8h0M598.7 104.3h0M599.3 104.3h0M599.8 102.9h0M600.3 104.1h0M600.8 104.6h0M601.3 102.0h0M601.8 104.6h0M602.3 101.6h0M602.8 103.5h0M603.3 103.6h0M603.8 104.5h0M604.3 103.2h0M604.9 102.4h0M605.4 102.1h0M605.9 101.6h0M606.4 103.7h0M606.9 102.6h0M607.4 102.1h0M607.9 103.4h0M608.4 102.0h0M608.9 102.3h0M609.4 102.3h0M609.9 104.5h0M610.5 104.3h0M611.0 102.6h0M611.5 101.1h0M612.0 103.0h0M612.5 102.8h0M613.0 103.0h0M613.5 103.2h0M614.0 102.3h0M614.5 103.6h0M615.0 103.5h0M615.6 102.8h0M616.1 102.1h0M616.6 102.1h0M617.1 103.3h0M617.6 101.4h0M618.1 102.3h0M618.6 101.7h0M619.1 101.0h0M619.6 103.1h0M620.1 102.4h0M620.6 102.5h0M621.2 103.3h0M621.7 100.8h0M622.2 102.3h0M622.7 102.7h0M623.2 103.2h0M623.7 101.2h0" stroke="#b05ce6" stroke-width="4.4" stroke-linecap="round" fill="none"/>
<path d="M411.7 40.0h0M412.8 86.9h0M414.1 116.4h0M415.1 131.7h0M416.1 141.0h0M417.0 147.4h0M418.0 151.7h0M419.0 157.0h0M420.0 159.1h0M420.7 160.1h0M421.3 161.0h0M422.0 160.2h0M422.7 161.7h0M423.4 162.3h0M424.1 163.0h0M424.7 162.3h0M425.4 163.3h0M426.1 162.1h0M426.8 162.4h0M427.5 161.3h0M428.1 162.0h0M428.8 162.0h0M429.5 163.4h0M430.2 162.8h0M430.9 161.8h0M431.6 162.8h0M432.2 162.8h0M432.9 162.4h0M433.6 162.5h0M434.3 162.3h0M435.0 162.2h0M435.6 161.5h0M436.3 162.4h0M437.0 163.3h0M437.7 163.3h0M438.4 162.3h0M439.1 162.1h0M439.7 162.4h0M440.4 163.0h0M441.1 162.7h0M441.8 162.2h0M442.5 162.7h0M443.1 162.4h0M443.8 162.8h0M444.5 162.3h0M445.2 161.7h0M445.9 162.6h0M446.5 163.0h0M447.2 161.9h0M447.9 162.5h0M448.6 163.1h0M449.3 162.3h0M450.0 162.2h0M450.6 163.7h0M451.3 163.0h0M452.0 163.1h0M452.7 162.0h0M453.4 163.5h0M454.0 161.6h0M454.7 162.3h0M455.4 163.0h0M456.1 163.3h0M456.8 162.0h0M457.4 162.2h0M458.1 162.7h0M458.8 161.4h0M459.5 162.9h0M460.2 162.9h0M460.9 162.3h0M461.5 162.9h0M462.2 163.0h0M462.9 162.8h0M463.6 162.9h0M464.3 163.5h0M464.9 162.3h0M465.6 162.7h0M466.3 162.3h0M467.0 163.2h0M467.7 162.4h0M468.3 162.9h0M469.0 162.7h0M469.7 162.6h0M470.4 163.6h0M471.1 162.6h0M471.8 163.4h0M472.4 163.1h0M473.1 163.4h0M473.8 162.5h0M474.5 163.2h0M475.2 163.1h0M475.8 162.3h0M476.5 162.8h0M477.2 162.5h0M477.9 162.6h0M478.6 163.4h0M479.3 162.2h0M479.9 161.7h0M480.6 161.6h0M481.3 162.4h0M482.0 162.3h0M482.7 162.6h0M483.3 163.0h0M484.0 163.7h0M484.7 162.8h0M485.4 162.9h0M486.1 162.2h0M486.7 163.0h0M487.4 163.4h0M488.1 163.4h0M488.8 161.5h0M489.5 163.2h0M490.2 163.6h0M490.8 163.1h0M491.5 161.8h0M492.2 162.5h0M492.9 163.0h0M493.6 162.9h0M494.2 162.2h0M494.9 162.2h0M495.6 163.2h0M496.3 161.9h0M497.0 163.5h0M497.6 162.7h0M498.3 162.9h0M499.0 161.9h0M499.7 162.3h0M500.4 163.1h0M501.1 161.8h0M501.7 163.9h0M502.4 161.9h0M503.1 162.0h0M503.8 162.7h0M504.5 163.0h0M505.1 163.1h0M505.8 162.5h0M506.5 162.6h0M507.2 162.6h0M507.9 162.4h0M508.5 161.2h0M509.2 163.3h0M509.9 162.9h0M510.6 162.8h0M511.3 162.4h0M512.0 162.9h0M512.6 162.7h0M513.3 162.7h0M514.0 163.4h0M514.7 161.7h0M515.4 162.9h0M516.0 162.1h0M516.7 162.6h0M517.4 163.6h0M518.1 162.1h0M518.8 162.7h0M519.5 162.4h0M520.1 163.3h0M520.8 162.2h0M521.5 161.8h0M522.2 163.0h0M522.9 162.5h0M523.5 162.6h0M524.2 163.4h0M524.9 162.2h0M525.6 162.5h0M526.3 162.8h0M526.9 163.0h0M527.6 162.5h0M528.3 163.4h0M529.0 164.1h0M529.7 162.5h0M530.4 163.9h0M531.0 161.6h0M531.7 163.6h0M532.4 162.6h0M533.1 162.9h0M533.8 162.6h0M534.4 162.4h0M535.1 162.1h0M535.8 162.6h0M536.5 163.5h0M537.2 163.5h0M537.8 162.6h0M538.5 162.5h0M539.2 162.4h0M539.9 162.1h0M540.6 163.8h0M541.3 163.2h0M541.9 162.9h0M542.6 162.5h0M543.3 162.2h0M544.0 163.6h0M544.7 163.3h0M545.3 162.3h0M546.0 163.4h0M546.7 162.2h0M547.4 163.2h0M548.1 162.3h0M548.8 162.6h0M549.4 163.1h0M550.1 163.1h0M550.8 163.4h0M551.5 162.4h0M552.2 163.7h0M552.8 163.6h0M553.5 162.8h0M554.2 163.1h0M554.9 162.4h0M555.6 162.8h0M556.2 162.1h0M556.9 162.9h0M557.6 163.0h0M558.3 163.6h0M559.0 163.4h0M559.7 163.3h0M560.3 162.7h0M561.0 162.7h0M561.7 162.7h0M562.4 163.0h0M563.1 161.8h0M563.7 163.3h0M564.4 162.0h0M565.1 162.6h0M565.8 162.9h0M566.5 162.6h0M567.1 163.8h0M567.8 162.8h0M568.5 163.8h0M569.2 163.6h0M569.9 162.6h0M570.6 163.1h0M571.2 163.6h0M571.9 162.7h0M572.6 162.9h0M573.3 162.6h0M574.0 162.9h0M574.6 162.7h0M575.3 163.0h0M576.0 163.5h0M576.7 163.7h0M577.4 163.0h0M578.0 163.0h0M578.7 163.4h0M579.4 162.8h0M580.1 162.3h0M580.8 163.6h0M581.5 162.4h0M582.1 163.5h0M582.8 162.4h0M583.5 164.0h0M584.2 162.3h0M584.9 163.4h0M585.5 163.8h0M586.2 162.4h0M586.9 163.8h0M587.6 162.5h0M588.3 161.9h0M589.0 163.4h0M589.6 163.4h0M590.3 162.8h0M591.0 161.5h0M591.7 162.9h0M592.4 162.8h0M593.0 162.7h0M593.7 162.8h0M594.4 161.9h0M595.1 162.6h0M595.8 164.0h0M596.4 163.9h0M597.1 162.8h0M597.8 162.6h0M598.5 163.2h0M599.2 163.6h0M599.9 163.4h0M600.5 162.3h0M601.2 163.1h0M601.9 163.1h0M602.6 163.8h0M603.3 163.7h0M603.9 163.3h0M604.6 163.7h0M605.3 162.8h0M606.0 163.9h0M606.7 162.8h0M607.3 163.2h0M608.0 163.5h0M608.7 162.5h0M609.4 162.6h0M610.1 162.0h0M610.8 163.1h0M611.4 163.0h0M612.1 162.8h0M612.8 163.3h0M613.5 161.8h0M614.2 163.0h0M614.8 163.1h0M615.5 162.9h0M616.2 163.5h0M616.9 164.0h0M617.6 162.8h0M618.2 162.5h0M618.9 162.7h0M619.6 163.1h0M620.3 163.4h0M621.0 162.5h0M621.7 163.6h0M622.3 162.5h0M623.0 163.5h0M623.7 163.3h0" stroke="#eb8228" stroke-width="4.4" stroke-linecap="square" fill="none"/>
<path d="M410.00,159.10H623.70" stroke="#ff1a0a" stroke-width="3.4" stroke-dasharray="10.60 18.70" stroke-dashoffset="-1.70" stroke-linecap="round" fill="none"/>
<path d="M60.6 442.6h0M61.6 442.9h0M62.6 442.5h0M63.6 442.5h0M64.6 442.6h0M65.6 442.7h0M66.6 442.3h0M67.6 442.6h0M68.6 442.4h0M69.6 442.6h0M70.6 442.8h0M71.6 442.5h0M72.6 442.5h0M73.6 442.6h0M74.6 442.0h0M75.6 442.7h0M76.6 442.6h0M77.6 442.6h0M78.6 442.5h0M79.6 442.4h0M80.6 442.5h0M81.6 442.8h0M82.6 442.5h0M83.6 442.8h0M84.6 442.0h0M85.6 442.4h0M86.6 442.6h0M87.6 442.5h0M88.6 442.2h0M89.6 442.4h0M90.6 442.8h0M91.6 442.3h0M92.6 442.3h0M93.5 442.3h0M94.5 442.4h0M95.5 442.7h0M96.5 442.6h0M97.5 442.1h0M98.5 442.8h0M99.5 442.4h0M100.5 442.4h0M101.5 442.8h0M102.5 442.5h0M103.5 442.3h0M104.5 442.4h0M105.5 442.4h0M106.5 442.3h0M107.5 442.5h0M108.5 442.7h0M109.5 442.6h0M110.5 442.3h0M111.5 443.1h0M112.5 442.3h0M113.5 442.5h0M114.5 442.5h0M115.5 442.7h0M116.5 442.5h0M117.5 442.6h0M118.5 442.9h0M119.5 442.5h0M120.5 442.3h0M121.5 442.6h0M122.5 442.4h0M123.5 442.5h0M124.5 442.6h0M125.5 442.6h0M126.5 442.5h0M127.5 442.7h0M128.5 442.5h0M129.5 442.3h0M130.5 442.7h0M131.5 442.5h0M132.5 442.8h0M133.5 442.4h0M134.5 442.6h0M135.5 442.6h0M136.5 442.0h0M137.5 442.2h0M138.5 442.3h0M139.5 442.8h0M140.5 442.2h0M141.5 442.7h0M142.5 442.7h0M143.5 442.6h0M144.5 442.6h0M145.4 442.4h0M146.4 442.4h0M147.4 442.4h0M148.4 442.4h0M149.4 442.4h0M150.4 442.2h0M151.4 441.9h0M152.4 441.8h0M153.4 441.7h0M154.4 441.0h0M155.4 440.6h0M156.4 440.1h0M157.4 439.1h0M158.4 437.9h0M159.4 435.8h0M160.4 434.0h0M161.4 431.1h0M162.4 427.9h0M163.4 422.0h0M164.4 417.3h0M165.4 411.3h0M166.4 404.4h0M167.4 397.6h0M168.4 390.5h0M169.4 382.9h0M170.4 377.9h0M171.4 372.5h0M172.4 368.2h0M173.4 366.2h0M174.4 362.7h0M175.4 360.8h0M176.4 359.6h0M177.4 358.4h0M178.4 358.5h0M179.4 357.7h0M180.4 358.7h0M181.4 357.3h0M182.4 355.9h0M183.4 357.7h0M184.4 355.6h0M185.4 355.8h0M186.4 356.0h0M187.4 356.2h0M188.4 357.5h0M189.4 355.5h0M190.4 356.5h0M191.4 356.1h0M192.4 354.7h0M193.4 354.8h0M194.4 355.9h0M195.4 356.6h0M196.4 356.5h0M197.3 356.7h0M198.3 356.2h0M199.3 355.6h0M200.3 356.6h0M201.3 354.9h0M202.3 354.5h0M203.3 355.7h0M204.3 354.4h0M205.3 355.5h0M206.3 355.2h0M207.3 355.5h0M208.3 356.0h0M209.3 355.2h0M210.3 355.6h0M211.3 354.1h0M212.3 356.3h0M213.3 355.1h0M214.3 356.6h0M215.3 352.8h0M216.3 355.2h0M217.3 356.4h0M218.3 353.3h0M219.3 355.7h0M220.3 356.2h0M221.3 356.2h0M222.3 354.4h0M223.3 356.4h0M224.3 356.3h0M225.3 355.0h0M226.3 357.0h0M227.3 356.0h0M228.3 356.1h0M229.3 355.6h0M230.3 356.7h0M231.3 356.2h0M232.3 357.4h0M233.3 356.6h0M234.3 355.4h0M235.3 355.8h0M236.3 357.2h0M237.3 355.7h0M238.3 356.5h0M239.3 356.7h0M240.3 355.9h0M241.3 353.4h0M242.3 356.3h0M243.3 356.3h0M244.3 356.3h0M245.3 355.2h0M246.3 357.5h0M247.3 355.9h0M248.3 355.4h0M249.2 355.3h0M250.2 356.5h0M251.2 354.8h0M252.2 354.9h0M253.2 358.4h0M254.2 357.4h0M255.2 357.0h0M256.2 357.3h0M257.2 356.3h0M258.2 353.5h0M259.2 356.7h0M260.2 356.6h0M261.2 355.6h0M262.2 352.7h0M263.2 356.3h0M264.2 356.3h0M265.2 354.0h0M266.2 354.6h0M267.2 355.2h0M268.2 354.1h0M269.2 355.4h0M270.2 354.1h0M271.2 354.7h0M272.2 353.8h0M273.2 351.9h0M274.2 352.3h0" stroke="#b05ce6" stroke-width="4.4" stroke-linecap="round" fill="none"/>
<path d="M180.1 360.9h0M180.9 357.3h0M181.7 358.3h0M182.5 357.9h0M183.3 358.5h0M184.1 357.0h0M184.9 355.6h0M185.7 356.3h0M186.5 354.0h0M187.2 356.0h0M188.0 357.2h0M188.8 353.6h0M189.6 356.4h0M190.4 357.1h0M191.2 357.7h0M192.0 355.0h0M192.8 355.4h0M193.6 353.9h0M194.4 354.9h0M195.1 356.7h0M195.9 358.5h0M196.7 354.8h0M197.5 357.7h0M198.3 356.6h0M199.1 355.5h0M199.9 358.7h0M200.7 353.2h0M201.5 356.0h0M202.3 356.4h0M203.1 358.6h0M203.8 358.2h0M204.6 358.7h0M205.4 356.3h0M206.2 357.2h0M207.0 357.7h0M207.8 356.7h0M208.6 356.5h0M209.4 355.9h0M210.2 355.6h0M211.0 354.7h0M211.7 358.4h0M212.5 355.6h0M213.3 353.7h0M214.1 356.4h0M214.9 356.1h0M215.7 356.3h0M216.5 358.2h0M217.3 356.0h0M218.1 355.8h0M218.9 355.2h0M219.7 356.1h0M220.4 355.6h0M221.2 356.3h0M222.0 359.7h0M222.8 356.6h0M223.6 355.1h0M224.4 358.4h0M225.2 357.1h0M226.0 357.1h0M226.8 356.9h0M227.6 357.1h0M228.3 356.9h0M229.1 357.7h0M229.9 357.3h0M230.7 357.7h0M231.5 355.5h0M232.3 356.1h0M233.1 355.2h0M233.9 357.2h0M234.7 357.1h0M235.5 355.6h0M236.3 356.8h0M237.0 359.2h0M237.8 357.5h0M238.6 354.8h0M239.4 356.0h0M240.2 356.8h0M241.0 356.1h0M241.8 356.6h0M242.6 357.5h0M243.4 356.5h0M244.2 354.8h0M245.0 356.9h0M245.7 356.0h0M246.5 356.2h0M247.3 355.4h0M248.1 354.5h0M248.9 354.6h0M249.7 355.7h0M250.5 354.9h0M251.3 352.9h0M252.1 357.4h0M252.9 354.7h0M253.6 355.2h0M254.4 356.5h0M255.2 353.0h0M256.0 357.3h0M256.8 354.7h0M257.6 356.3h0M258.4 354.9h0M259.2 355.7h0M260.0 355.3h0M260.8 355.1h0M261.6 352.9h0M262.3 353.2h0M263.1 354.8h0M263.9 356.4h0M264.7 354.0h0M265.5 355.2h0M266.3 354.6h0M267.1 354.9h0M267.9 355.4h0M268.7 352.4h0M269.5 354.4h0M270.2 353.8h0M271.0 353.5h0M271.8 352.8h0M272.6 352.8h0M273.4 352.4h0M274.2 352.2h0" stroke="#b05ce6" stroke-width="4.4" stroke-linecap="round" fill="none"/>
<path d="M62.1 297.9h0M62.2 326.4h0M63.2 368.7h0M64.0 390.4h0M64.9 401.6h0M65.7 406.9h0M66.4 410.5h0M67.0 414.8h0M67.6 418.6h0M68.3 419.5h0M68.9 419.9h0M69.5 421.3h0M70.2 421.7h0M70.8 422.4h0M71.4 424.1h0M72.1 424.9h0M72.7 424.8h0M73.3 424.7h0M74.0 424.7h0M74.6 425.4h0M75.2 426.1h0M75.9 425.1h0M76.5 426.6h0M77.1 424.3h0M77.8 425.4h0M78.4 424.6h0M79.1 425.2h0M79.7 425.3h0M80.3 425.6h0M81.0 425.9h0M81.6 425.0h0M82.2 424.6h0M82.9 425.2h0M83.5 425.5h0M84.1 424.9h0M84.8 425.8h0M85.4 426.3h0M86.0 424.5h0M86.7 425.5h0M87.3 425.9h0M87.9 424.2h0M88.6 425.4h0M89.2 425.2h0M89.8 424.5h0M90.5 426.1h0M91.1 425.5h0M91.7 425.1h0M92.4 425.6h0M93.0 425.7h0M93.6 425.8h0M94.3 425.7h0M94.9 425.6h0M95.5 424.7h0M96.2 425.1h0M96.8 425.4h0M97.4 423.8h0M98.1 426.6h0M98.7 425.2h0M99.3 424.8h0M100.0 424.3h0M100.6 425.5h0M101.2 425.4h0M101.9 425.1h0M102.5 425.2h0M103.1 424.9h0M103.8 425.0h0M104.4 425.4h0M105.0 425.0h0M105.7 425.8h0M106.3 425.3h0M106.9 425.5h0M107.6 425.7h0M108.2 426.2h0M108.8 425.8h0M109.5 425.6h0M110.1 425.3h0M110.7 425.0h0M111.4 425.2h0M112.0 425.8h0M112.6 425.6h0M113.3 425.2h0M113.9 424.7h0M114.5 424.6h0M115.2 425.7h0M115.8 426.1h0M116.4 425.7h0M117.1 424.7h0M117.7 425.4h0M118.3 425.6h0M119.0 424.9h0M119.6 425.7h0M120.2 425.4h0M120.9 425.0h0M121.5 424.8h0M122.1 426.0h0M122.8 425.7h0M123.4 425.0h0M124.0 424.9h0M124.7 426.0h0M125.3 425.9h0M125.9 425.3h0M126.6 426.5h0M127.2 425.4h0M127.8 424.9h0M128.5 426.2h0M129.1 425.4h0M129.7 425.7h0M130.4 425.6h0M131.0 425.0h0M131.6 424.9h0M132.3 425.4h0M132.9 426.4h0M133.5 425.0h0M134.2 426.4h0M134.8 425.7h0M135.4 424.9h0M136.1 425.7h0M136.7 425.9h0M137.3 425.1h0M138.0 424.3h0M138.6 425.8h0M139.2 424.9h0M139.9 425.9h0M140.5 424.5h0M141.1 425.5h0M141.8 425.1h0M142.4 424.7h0M143.0 425.5h0M143.7 425.7h0M144.3 425.3h0M144.9 424.9h0M145.6 425.7h0M146.2 424.6h0M146.8 425.9h0M147.5 425.9h0M148.1 426.6h0M148.7 426.2h0M149.4 425.8h0M150.0 425.8h0M150.6 425.7h0M151.3 424.9h0M151.9 426.5h0M152.5 426.0h0M153.2 425.5h0M153.8 425.0h0M154.4 426.5h0M155.1 426.0h0M155.7 425.0h0M156.4 426.1h0M157.0 426.8h0M157.6 425.7h0M158.3 425.9h0M158.9 425.4h0M159.5 425.3h0M160.2 426.3h0M160.8 427.5h0M161.4 425.8h0M162.1 425.6h0M162.7 426.2h0M163.3 425.5h0M164.0 426.1h0M164.6 426.2h0M165.2 425.1h0M165.9 425.1h0M166.5 425.7h0M167.1 426.2h0M167.8 425.9h0M168.4 426.5h0M169.0 424.9h0M169.7 426.0h0M170.3 425.4h0M170.9 425.8h0M171.6 425.9h0M172.2 425.2h0M172.8 425.6h0M173.5 425.1h0M174.1 425.9h0M174.7 425.3h0M175.4 425.5h0M176.0 425.9h0M176.6 425.4h0M177.3 426.5h0M177.9 425.4h0M178.5 426.3h0M179.2 426.0h0M179.8 425.2h0M180.4 425.7h0M181.1 425.3h0M181.7 425.6h0M182.3 425.7h0M183.0 426.9h0M183.6 425.6h0M184.2 426.7h0M184.9 426.1h0M185.5 425.1h0M186.1 424.5h0M186.8 426.2h0M187.4 424.7h0M188.0 426.3h0M188.7 426.4h0M189.3 426.1h0M189.9 425.7h0M190.6 425.7h0M191.2 426.0h0M191.8 425.7h0M192.5 425.6h0M193.1 425.7h0M193.7 426.6h0M194.4 425.5h0M195.0 426.1h0M195.6 425.2h0M196.3 425.5h0M196.9 425.1h0M197.5 425.8h0M198.2 426.3h0M198.8 426.1h0M199.4 425.6h0M200.1 426.3h0M200.7 425.7h0M201.3 426.1h0M202.0 426.1h0M202.6 426.2h0M203.2 424.5h0M203.9 425.2h0M204.5 426.4h0M205.1 425.9h0M205.8 427.2h0M206.4 425.8h0M207.0 425.6h0M207.7 426.8h0M208.3 426.3h0M208.9 427.1h0M209.6 426.3h0M210.2 425.8h0M210.8 426.4h0M211.5 425.5h0M212.1 425.7h0M212.7 425.6h0M213.4 425.8h0M214.0 426.4h0M214.6 425.7h0M215.3 426.2h0M215.9 425.7h0M216.5 426.5h0M217.2 424.4h0M217.8 425.9h0M218.4 426.1h0M219.1 425.4h0M219.7 426.6h0M220.3 426.1h0M221.0 426.8h0M221.6 426.6h0M222.2 426.4h0M222.9 425.9h0M223.5 425.4h0M224.1 425.9h0M224.8 425.8h0M225.4 426.2h0M226.0 425.8h0M226.7 427.8h0M227.3 425.1h0M227.9 426.7h0M228.6 425.8h0M229.2 425.9h0M229.8 426.6h0M230.5 426.1h0M231.1 425.4h0M231.7 426.3h0M232.4 426.0h0M233.0 424.9h0M233.6 426.2h0M234.3 425.5h0M234.9 425.7h0M235.6 426.4h0M236.2 426.3h0M236.8 425.9h0M237.5 427.4h0M238.1 426.3h0M238.7 425.7h0M239.4 426.2h0M240.0 426.0h0M240.6 424.8h0M241.3 425.2h0M241.9 425.3h0M242.5 427.3h0M243.2 426.0h0M243.8 426.0h0M244.4 425.8h0M245.1 426.7h0M245.7 426.2h0M246.3 427.1h0M247.0 426.6h0M247.6 427.1h0M248.2 426.1h0M248.9 426.4h0M249.5 425.9h0M250.1 426.1h0M250.8 425.2h0M251.4 425.8h0M252.0 425.6h0M252.7 425.8h0M253.3 426.9h0M253.9 426.3h0M254.6 426.9h0M255.2 426.7h0M255.8 426.7h0M256.5 426.8h0M257.1 425.9h0M257.7 426.7h0M258.4 426.0h0M259.0 425.9h0M259.6 426.9h0M260.3 427.5h0M260.9 425.7h0M261.5 427.2h0M262.2 426.7h0M262.8 425.7h0M263.4 426.4h0M264.1 426.5h0M264.7 426.5h0M265.3 426.0h0M266.0 425.5h0M266.6 426.3h0M267.2 426.8h0M267.9 426.7h0M268.5 426.6h0M269.1 426.9h0M269.8 425.7h0M270.4 426.2h0M271.0 426.5h0M271.7 426.9h0M272.3 426.4h0M272.9 426.6h0M273.6 426.4h0M274.2 427.5h0" stroke="#eb8228" stroke-width="4.4" stroke-linecap="square" fill="none"/>
<path d="M60.40,423.90H274.20" stroke="#ff1a0a" stroke-width="3.4" stroke-dasharray="10.60 18.70" stroke-dashoffset="-1.70" stroke-linecap="round" fill="none"/>
<path d="M410.4 438.4h0M412.4 441.8h0M414.3 443.0h0M416.3 442.6h0M418.3 442.2h0M420.2 442.6h0M422.2 442.3h0M424.1 442.4h0M426.1 442.6h0M428.0 442.9h0M430.0 442.6h0M432.0 442.7h0M433.9 442.7h0M435.9 442.6h0M437.8 442.4h0M439.8 442.5h0M441.7 442.6h0M443.7 442.5h0M445.6 442.4h0M447.6 442.5h0M449.6 442.2h0M451.5 442.3h0M453.5 442.5h0M455.4 442.5h0M457.4 442.5h0M459.3 442.8h0M461.3 442.6h0M463.3 442.5h0M465.2 442.3h0M467.2 442.3h0M469.1 442.6h0M471.1 442.4h0M473.0 442.6h0M475.0 442.3h0M477.0 442.5h0M478.9 442.5h0M480.9 442.7h0M482.8 442.4h0M484.8 442.3h0M486.7 442.3h0M488.7 442.0h0M490.6 441.9h0M492.6 441.0h0M494.6 440.1h0M496.5 438.9h0M498.5 437.3h0M500.4 434.9h0M502.4 432.0h0M504.3 427.9h0M506.3 424.1h0M508.3 418.8h0M510.2 412.6h0M512.2 406.1h0M514.1 399.9h0M516.1 393.4h0M518.0 386.5h0M520.0 381.1h0M522.0 375.5h0M523.9 371.2h0M525.9 367.6h0M527.8 364.4h0M529.8 360.6h0M531.7 361.0h0M533.7 359.3h0M535.7 357.4h0M537.6 357.5h0M539.6 357.9h0M541.5 356.2h0M543.5 356.3h0M545.4 355.8h0M547.4 357.0h0M549.3 354.5h0M551.3 357.2h0M553.3 355.4h0M555.2 356.8h0M557.2 354.9h0M559.1 355.4h0M561.1 355.6h0M563.0 356.7h0M565.0 354.9h0M567.0 356.6h0M568.9 355.6h0M570.9 357.1h0M572.8 355.9h0M574.8 356.5h0M576.7 356.0h0M578.7 357.5h0M580.7 355.8h0M582.6 356.1h0M584.6 357.6h0M586.5 356.2h0M588.5 356.6h0M590.4 355.5h0M592.4 356.3h0M594.4 354.4h0M596.3 356.2h0M598.3 355.6h0M600.2 354.9h0M602.2 355.0h0M604.1 357.0h0M606.1 356.4h0M608.0 354.9h0M610.0 357.5h0M612.0 355.6h0M613.9 355.8h0M615.9 356.3h0M617.8 355.2h0M619.8 354.9h0M621.7 355.5h0M623.7 357.0h0" stroke="#b05ce6" stroke-width="4.4" stroke-linecap="round" fill="none"/>
<path d="M412.0 309.2h0M413.8 312.2h0M415.7 321.9h0M417.5 331.4h0M419.4 341.0h0M421.2 348.5h0M423.1 353.3h0M424.9 355.7h0M426.8 357.0h0M428.6 358.3h0M430.5 359.6h0M432.3 361.9h0M434.2 364.0h0M436.0 368.5h0M437.8 371.8h0M439.7 376.2h0M441.5 382.7h0M443.4 388.3h0M445.2 394.9h0M447.1 402.1h0M448.9 408.5h0M450.8 413.8h0M452.6 420.1h0M454.5 425.0h0M456.3 428.7h0M458.2 431.0h0M460.0 433.0h0M461.9 435.0h0M463.7 436.6h0M465.6 437.7h0M467.4 438.7h0M469.3 440.0h0M471.1 439.6h0M473.0 440.0h0M474.8 440.3h0M476.7 441.0h0M478.4 441.3h0M480.3 441.0h0M482.3 441.3h0M484.3 441.1h0M486.2 441.3h0M488.2 441.1h0M490.2 441.2h0M492.1 441.2h0M494.1 441.5h0M496.1 441.9h0M498.0 440.7h0M500.0 441.4h0M501.9 441.2h0M503.9 441.5h0M505.9 441.5h0M507.8 441.4h0M509.8 441.5h0M511.8 440.9h0M513.7 440.7h0M515.7 441.7h0M517.7 441.6h0M519.6 440.9h0M521.6 441.6h0M523.5 441.4h0M525.5 440.5h0M527.5 441.5h0M529.4 440.9h0M531.4 441.6h0M533.4 441.0h0M535.3 441.0h0M537.3 440.8h0M539.3 441.2h0M541.2 441.5h0M543.2 441.0h0M545.2 440.7h0M547.1 441.8h0M549.1 441.8h0M551.0 441.4h0M553.0 441.1h0M555.0 440.9h0M556.9 440.7h0M558.9 441.4h0M560.9 441.6h0M562.8 440.9h0M564.8 441.2h0M566.8 441.1h0M568.7 441.1h0M570.7 441.4h0M572.6 441.8h0M574.6 441.0h0M576.6 441.5h0M578.5 441.5h0M580.5 441.1h0M582.5 441.2h0M584.4 440.8h0M586.4 441.5h0M588.4 441.1h0M590.3 441.0h0M592.3 441.2h0M594.2 441.0h0M596.2 440.9h0M598.2 441.1h0M600.1 441.6h0M602.1 441.2h0M604.1 441.4h0M606.0 440.8h0M608.0 440.7h0M610.0 441.7h0M611.9 441.1h0M613.9 440.8h0M615.8 441.2h0M617.8 441.4h0M619.8 440.7h0M621.7 441.0h0M623.7 441.3h0" stroke="#eb8228" stroke-width="4.4" stroke-linecap="square" fill="none"/>
<path d="M410.00,441.70H623.70" stroke="#ff1a0a" stroke-width="3.4" stroke-dasharray="10.60 18.70" stroke-dashoffset="-1.70" stroke-linecap="round" fill="none"/>
<path d="M60.6 694.6h0M61.5 694.6h0M62.5 694.6h0M63.4 694.6h0M64.3 694.6h0M65.3 694.6h0M66.2 694.6h0M67.1 694.6h0M68.1 694.5h0M69.0 694.5h0M69.9 694.5h0M70.8 694.5h0M71.8 694.5h0M72.7 694.5h0M73.6 694.5h0M74.6 694.5h0M75.5 694.5h0M76.4 694.5h0M77.4 694.5h0M78.3 694.4h0M79.2 694.4h0M80.2 694.4h0M81.1 694.4h0M82.0 694.4h0M82.9 694.4h0M83.9 694.4h0M84.8 694.4h0M85.7 694.4h0M86.7 694.4h0M87.6 694.4h0M88.5 694.3h0M89.5 694.3h0M90.4 694.3h0M91.3 694.3h0M92.2 694.3h0M93.2 694.3h0M94.1 694.3h0M95.0 694.3h0M96.0 694.3h0M96.9 694.3h0M97.8 694.2h0M98.8 694.2h0M99.7 694.2h0M100.6 694.2h0M101.6 694.2h0M102.5 694.2h0M103.4 694.2h0M104.3 694.2h0M105.3 694.2h0M106.2 694.2h0M107.1 694.2h0M108.1 694.1h0M109.0 694.1h0M109.9 694.1h0M110.9 694.1h0M111.8 694.1h0M112.7 694.1h0M113.6 694.1h0M114.6 694.1h0M115.5 694.1h0M116.4 694.1h0M117.4 694.0h0M118.3 694.0h0M119.2 694.0h0M120.2 694.0h0M121.1 694.0h0M122.0 694.0h0M123.0 694.0h0M123.9 694.0h0M124.8 694.0h0M125.7 694.0h0M126.7 694.0h0M127.6 693.9h0M128.5 693.9h0M129.5 693.9h0M130.4 693.9h0M131.3 693.9h0M132.3 693.9h0M133.2 693.9h0M134.1 693.9h0M135.0 693.9h0M136.0 693.9h0M136.9 693.8h0M137.8 693.8h0M138.8 693.8h0M139.7 693.8h0M140.6 693.8h0M141.6 693.8h0M142.5 693.8h0M143.4 693.8h0M144.4 693.8h0M145.3 693.8h0M146.2 693.7h0M147.1 693.7h0M148.1 693.6h0M149.0 693.5h0M149.9 693.4h0M150.9 693.4h0M151.8 693.3h0M152.7 693.2h0M153.7 693.2h0M154.6 693.1h0M155.5 693.0h0M156.4 693.0h0M157.4 692.9h0M158.3 692.8h0M159.2 692.7h0M160.2 692.7h0M161.1 692.6h0M162.0 692.5h0M163.0 692.5h0M163.9 692.4h0M164.8 692.3h0M165.8 692.2h0M166.7 692.2h0M167.6 692.1h0M168.5 692.0h0M169.5 692.0h0M170.4 691.9h0M171.3 691.8h0M172.3 691.8h0M173.2 691.7h0M174.1 691.6h0M175.1 691.5h0M176.0 691.5h0M176.9 691.4h0M177.9 691.3h0M178.8 691.3h0M179.7 691.2h0M180.6 691.1h0M181.6 691.0h0M182.5 690.9h0M183.4 690.8h0M184.4 690.7h0M185.3 690.7h0M186.2 690.6h0M187.2 690.5h0M188.1 690.4h0M189.0 690.3h0M189.9 690.2h0M190.9 690.1h0M191.8 690.0h0M192.7 689.9h0M193.7 689.8h0M194.6 689.8h0M195.5 689.7h0M196.5 689.6h0M197.4 689.5h0M198.3 689.4h0M199.3 689.3h0M200.2 689.2h0M201.1 689.1h0M202.0 689.0h0M203.0 688.9h0M203.9 688.9h0M204.8 688.8h0M205.8 688.7h0M206.7 688.6h0M207.6 688.5h0M208.6 688.4h0M209.5 688.3h0M210.4 688.2h0M211.3 688.1h0M212.3 688.0h0M213.2 688.0h0M214.1 687.9h0M215.1 687.8h0M216.0 687.7h0M216.9 687.6h0M217.9 687.5h0M218.8 687.4h0M219.7 687.3h0M220.7 687.2h0M221.6 687.1h0M222.5 687.1h0M223.4 687.0h0M224.4 686.9h0M225.3 686.8h0M226.2 685.5h0M227.2 683.9h0M228.0 682.5h0M229.1 679.4h0M230.2 674.5h0M231.3 664.4h0M232.4 657.0h0M233.4 650.7h0M234.5 643.6h0M235.6 637.0h0M236.7 631.9h0M237.8 627.8h0M238.9 624.3h0M240.0 620.9h0M241.0 618.7h0M242.1 616.8h0" stroke="#b05ce6" stroke-width="4.4" stroke-linecap="round" fill="none"/>
<path d="M242.1 615.4h0M242.5 617.6h0M242.9 617.5h0M243.2 616.5h0M243.6 614.8h0M243.9 615.2h0M244.3 614.0h0M244.7 614.5h0M245.0 614.9h0M245.4 613.7h0M245.7 615.3h0M246.1 617.6h0M246.5 612.5h0M246.8 613.8h0M247.2 614.4h0M247.5 614.0h0M247.9 612.5h0M248.3 612.0h0M248.6 614.2h0M249.0 613.4h0M249.3 613.1h0M249.7 611.0h0M250.1 613.1h0M250.4 613.2h0M250.8 611.5h0M251.1 612.7h0M251.5 614.9h0M251.9 608.5h0M252.2 612.3h0M252.6 609.4h0M252.9 608.9h0M253.3 610.6h0M253.7 611.6h0M254.0 610.8h0M254.4 608.8h0M254.7 608.2h0M255.1 609.5h0M255.5 610.2h0M255.8 608.8h0M256.2 607.6h0M256.5 612.5h0M256.9 608.4h0M257.3 609.3h0M257.6 608.6h0M258.0 608.4h0M258.3 609.3h0M258.7 608.6h0M259.1 609.9h0M259.4 607.0h0M259.8 606.4h0M260.1 611.6h0M260.5 608.4h0M260.9 609.6h0M261.2 610.2h0M261.6 609.2h0M261.9 608.3h0M262.3 605.8h0M262.7 605.7h0M263.0 609.6h0M263.4 609.1h0M263.8 608.9h0M264.1 605.4h0M264.5 604.6h0M264.8 606.2h0M265.2 605.9h0M265.6 608.0h0M265.9 606.1h0M266.3 610.1h0M266.6 606.6h0M267.0 606.6h0M267.4 608.8h0M267.7 607.9h0M268.1 606.0h0M268.4 608.6h0M268.8 610.2h0M269.2 605.3h0M269.5 606.8h0M269.9 605.4h0M270.2 604.0h0M270.6 608.0h0M271.0 608.0h0M271.3 608.4h0M271.7 607.5h0M272.0 603.7h0M272.4 606.7h0M272.8 605.7h0M273.1 604.8h0M273.5 604.9h0M273.8 607.7h0M274.2 606.0h0" stroke="#b05ce6" stroke-width="4.4" stroke-linecap="round" fill="none"/>
<path d="M62.2 560.5h0M63.4 589.2h0M64.1 610.1h0M64.6 626.0h0M65.7 638.4h0M67.0 646.7h0M68.2 653.1h0M69.0 660.4h0M69.6 662.0h0M70.2 665.2h0M70.8 667.2h0M71.4 670.2h0M72.1 671.9h0M72.7 674.2h0M73.3 675.5h0M73.9 676.1h0M74.6 676.9h0M75.2 678.7h0M75.8 680.1h0M76.4 680.5h0M77.1 681.4h0M77.7 682.3h0M78.3 683.1h0M78.9 683.4h0M79.6 684.0h0M80.2 683.8h0M80.8 683.8h0M81.4 685.4h0M82.1 685.4h0M82.7 686.2h0M83.3 686.6h0M83.9 687.4h0M84.5 687.1h0M85.2 688.1h0M85.8 687.7h0M86.4 688.0h0M87.0 688.2h0M87.7 688.5h0M88.3 688.4h0M88.9 687.8h0M89.5 688.3h0M90.2 689.5h0M90.8 689.1h0M91.4 689.3h0M92.0 689.4h0M92.7 689.1h0M93.3 689.2h0M93.9 689.3h0M94.5 690.1h0M95.2 689.8h0M95.8 690.4h0M96.4 689.9h0M97.0 690.5h0M97.6 689.9h0M98.3 689.3h0M98.9 690.5h0M99.5 690.0h0M100.1 690.3h0M100.8 690.0h0M101.4 689.8h0M102.0 690.0h0M102.6 689.5h0M103.3 689.5h0M103.9 689.7h0M104.5 689.8h0M105.1 689.5h0M105.8 690.0h0M106.4 690.1h0M107.0 690.8h0M107.6 690.7h0M108.3 690.0h0M108.9 690.4h0M109.5 689.9h0M110.1 690.2h0M110.8 690.0h0M111.4 689.8h0M112.0 690.0h0M112.6 689.4h0M113.2 690.2h0M113.9 689.9h0M114.5 689.6h0M115.1 689.9h0M115.7 690.2h0M116.4 689.7h0M117.0 690.2h0M117.6 690.2h0M118.2 690.6h0M118.9 689.6h0M119.5 690.0h0M120.1 690.2h0M120.7 690.6h0M121.4 690.1h0M122.0 690.3h0M122.6 689.4h0M123.2 689.8h0M123.9 690.7h0M124.5 689.9h0M125.1 690.9h0M125.7 689.7h0M126.3 689.9h0M127.0 689.4h0M127.6 690.3h0M128.2 690.1h0M128.8 690.8h0M129.5 690.1h0M130.1 689.9h0M130.7 689.4h0M131.3 690.0h0M132.0 690.4h0M132.6 690.3h0M133.2 690.5h0M133.8 690.3h0M134.5 690.0h0M135.1 690.2h0M135.7 690.1h0M136.3 689.5h0M137.0 690.7h0M137.6 690.2h0M138.2 689.6h0M138.8 690.2h0M139.4 690.1h0M140.1 690.4h0M140.7 690.6h0M141.3 688.8h0M141.9 690.2h0M142.6 690.6h0M143.2 689.6h0M143.8 689.3h0M144.4 690.1h0M145.1 690.1h0M145.7 690.1h0M146.3 689.6h0M146.9 689.8h0M147.6 690.1h0M148.2 690.3h0M148.8 690.9h0M149.4 690.1h0M150.1 689.8h0M150.7 689.1h0M151.3 690.4h0M151.9 690.0h0M152.5 690.0h0M153.2 689.6h0M153.8 690.3h0M154.4 689.3h0M155.0 690.0h0M155.7 690.1h0M156.3 690.1h0M156.9 690.5h0M157.5 690.0h0M158.2 690.0h0M158.8 690.3h0M159.4 689.4h0M160.0 689.9h0M160.7 690.0h0M161.3 690.4h0M161.9 689.7h0M162.5 690.3h0M163.2 690.2h0M163.8 689.4h0M164.4 689.4h0M165.0 689.4h0M165.6 690.1h0M166.3 690.1h0M166.9 690.3h0M167.5 690.3h0M168.1 689.8h0M168.8 690.4h0M169.4 690.3h0M170.0 690.2h0M170.6 690.2h0M171.3 689.5h0M171.9 690.1h0M172.5 689.6h0M173.1 689.5h0M173.8 689.9h0M174.4 690.1h0M175.0 690.0h0M175.6 689.9h0M176.3 689.6h0M176.9 690.1h0M177.5 689.7h0M178.1 689.4h0M178.8 690.0h0M179.4 690.6h0M180.0 689.8h0M180.6 689.6h0M181.2 690.6h0M181.9 690.7h0M182.5 689.9h0M183.1 689.9h0M183.7 690.1h0M184.4 691.2h0M185.0 690.1h0M185.6 690.4h0M186.2 690.2h0M186.9 689.3h0M187.5 689.6h0M188.1 689.5h0M188.7 690.2h0M189.4 690.0h0M190.0 690.7h0M190.6 689.9h0M191.2 690.1h0M191.9 690.0h0M192.5 690.1h0M193.1 690.9h0M193.7 690.1h0M194.3 690.6h0M195.0 690.5h0M195.6 689.8h0M196.2 690.3h0M196.8 689.9h0M197.5 690.0h0M198.1 690.1h0M198.7 690.0h0M199.3 689.8h0M200.0 690.6h0M200.6 689.9h0M201.2 690.3h0M201.8 690.7h0M202.5 690.3h0M203.1 690.4h0M203.7 690.6h0M204.3 690.4h0M205.0 690.7h0M205.6 689.4h0M206.2 690.8h0M206.8 690.0h0M207.4 689.3h0M208.1 689.7h0M208.7 689.4h0M209.3 690.0h0M209.9 689.4h0M210.6 689.6h0M211.2 690.1h0M211.8 690.1h0M212.4 689.7h0M213.1 689.9h0M213.7 690.0h0M214.3 690.0h0M214.9 690.0h0M215.6 689.9h0M216.2 690.4h0M216.8 689.4h0M217.4 689.8h0M218.1 690.1h0M218.7 689.8h0M219.3 689.8h0M219.9 689.8h0M220.5 690.1h0M221.2 690.5h0M221.8 689.9h0M222.4 689.9h0M223.0 690.1h0M223.7 689.9h0M224.3 689.2h0M224.9 690.1h0M225.5 689.9h0M226.2 689.8h0M226.8 690.3h0M227.4 690.0h0M228.0 689.8h0M228.7 689.1h0M229.3 689.3h0M229.9 690.0h0M230.5 690.0h0M231.2 690.2h0M231.8 690.1h0M232.4 689.8h0M233.0 689.5h0M233.6 689.6h0M234.3 689.9h0M234.9 689.5h0M235.5 690.3h0M236.1 689.5h0M236.8 689.3h0M237.4 689.9h0M238.0 689.3h0M238.6 690.7h0M239.3 689.6h0M239.9 690.0h0M240.5 689.9h0M241.1 689.7h0M241.8 689.3h0M242.4 689.3h0M243.0 690.3h0M243.6 690.4h0M244.3 690.9h0M244.9 689.4h0M245.5 690.2h0M246.1 690.0h0M246.8 690.3h0M247.4 689.8h0M248.0 690.3h0M248.6 690.4h0M249.2 690.2h0M249.9 690.6h0M250.5 689.9h0M251.1 690.6h0M251.7 689.7h0M252.4 690.7h0M253.0 688.9h0M253.6 690.0h0M254.2 689.7h0M254.9 690.0h0M255.5 690.4h0M256.1 690.3h0M256.7 690.0h0M257.4 690.7h0M258.0 689.4h0M258.6 689.7h0M259.2 690.6h0M259.9 690.1h0M260.5 689.2h0M261.1 690.1h0M261.7 689.5h0M262.3 690.6h0M263.0 690.5h0M263.6 689.8h0M264.2 690.5h0M264.8 689.7h0M265.5 690.4h0M266.1 690.2h0M266.7 690.0h0M267.3 689.4h0M268.0 689.9h0M268.6 689.1h0M269.2 689.8h0M269.8 689.3h0M270.5 690.5h0M271.1 689.6h0M271.7 689.0h0M272.3 690.2h0M273.0 690.2h0M273.6 689.8h0M274.2 690.9h0" stroke="#eb8228" stroke-width="4.4" stroke-linecap="square" fill="none"/>
<path d="M60.40,691.20H274.20" stroke="#ff1a0a" stroke-width="3.4" stroke-dasharray="10.60 18.70" stroke-dashoffset="-1.70" stroke-linecap="round" fill="none"/>
<path d="M410.4 694.9h0M411.4 694.6h0M412.3 694.4h0M413.3 693.7h0M414.3 694.8h0M415.2 694.9h0M416.2 694.4h0M417.1 694.2h0M418.1 694.6h0M419.1 694.1h0M420.0 694.6h0M421.0 694.9h0M421.9 695.1h0M422.9 694.7h0M423.8 694.7h0M424.8 694.9h0M425.8 695.0h0M426.7 694.5h0M427.7 694.3h0M428.6 694.4h0M429.6 694.2h0M430.5 694.4h0M431.5 694.6h0M432.5 694.7h0M433.4 694.7h0M434.4 694.6h0M435.3 694.5h0M436.3 694.8h0M437.3 694.9h0M438.2 694.9h0M439.2 695.1h0M440.1 694.5h0M441.1 694.6h0M442.0 695.1h0M443.0 694.7h0M444.0 694.8h0M444.9 694.5h0M445.9 694.9h0M446.8 694.5h0M447.8 694.3h0M448.8 694.6h0M449.7 694.5h0M450.7 694.9h0M451.6 694.5h0M452.6 694.7h0M453.5 694.6h0M454.5 694.7h0M455.5 694.4h0M456.4 695.0h0M457.4 694.2h0M458.3 694.5h0M459.3 694.4h0M460.3 694.8h0M461.2 694.6h0M462.2 694.8h0M463.1 694.5h0M464.1 694.4h0M465.0 694.3h0M466.0 694.5h0M467.0 694.5h0M467.9 694.7h0M468.9 694.7h0M469.8 694.9h0M470.8 694.6h0M471.7 694.4h0M472.7 694.3h0M473.7 694.6h0M474.6 694.7h0M475.6 695.2h0M476.5 694.7h0M477.5 695.2h0M478.5 695.2h0M479.4 694.3h0M480.4 695.0h0M481.3 695.0h0M482.3 695.0h0M483.2 694.6h0M484.2 694.9h0M485.2 694.5h0M486.1 694.6h0M487.1 694.6h0M488.0 695.2h0M489.0 694.6h0M490.0 694.9h0M490.9 694.6h0M491.9 694.4h0M492.8 694.1h0M493.8 693.5h0M494.7 692.3h0M495.7 691.9h0M496.7 690.8h0M497.6 690.0h0" stroke="#b05ce6" stroke-width="4.4" stroke-linecap="round" fill="none"/>
<path d="M497.6 690.5h0M498.0 689.6h0M498.5 688.4h0M498.9 687.3h0M499.3 688.9h0M499.7 688.8h0M500.1 687.4h0M500.6 687.6h0M501.0 684.9h0M501.4 686.6h0M501.8 686.0h0M502.3 685.2h0M502.7 683.6h0M503.1 683.8h0M503.5 683.2h0M503.9 683.7h0M504.4 682.2h0M504.8 681.5h0M505.2 679.5h0M505.6 680.4h0M506.1 679.8h0M506.5 676.8h0M506.9 677.2h0M507.3 675.8h0M507.7 674.4h0M508.2 672.0h0M508.6 674.6h0M509.0 669.3h0M509.4 670.9h0M509.8 669.2h0M510.3 670.1h0M510.7 667.0h0M511.1 667.0h0M511.5 667.3h0M512.0 666.1h0M512.4 663.2h0M512.8 664.7h0M513.2 663.3h0M513.6 663.6h0M514.1 659.7h0M514.5 659.7h0M514.9 658.1h0M515.3 656.3h0M515.7 657.6h0M516.2 657.0h0M516.6 658.0h0M517.0 653.4h0M517.4 653.8h0M517.9 654.3h0M518.3 650.8h0M518.7 650.1h0M519.1 649.2h0M519.5 646.5h0M520.0 644.9h0M520.4 648.1h0M520.8 645.1h0M521.2 643.6h0M521.7 638.9h0M522.1 643.2h0M522.5 646.4h0M522.9 637.5h0M523.3 637.9h0M523.8 644.5h0M524.2 645.1h0M524.6 644.9h0M525.0 636.8h0M525.4 640.4h0M525.9 635.0h0M526.3 639.0h0M526.7 635.2h0M527.1 636.4h0M527.6 639.7h0M528.0 635.3h0M528.4 632.4h0M528.8 632.6h0M529.2 632.5h0M529.7 628.9h0M530.1 630.7h0M530.5 631.2h0M530.9 633.9h0M531.4 620.1h0M531.8 622.3h0M532.2 621.4h0M532.6 628.3h0M533.0 633.3h0M533.5 624.6h0M533.9 623.8h0M534.3 626.8h0M534.7 613.4h0M535.1 620.9h0M535.6 609.7h0M536.0 620.8h0M536.4 617.8h0M536.8 617.3h0M537.3 619.7h0M537.7 616.0h0M538.1 621.7h0M538.5 617.4h0M538.9 618.4h0M539.4 625.8h0M539.8 614.8h0M540.2 619.4h0M540.6 612.8h0M541.1 619.9h0M541.5 618.5h0M541.9 615.2h0M542.3 618.0h0M542.7 619.8h0M543.2 618.7h0M543.6 613.4h0M544.0 612.9h0M544.4 616.7h0M544.8 607.2h0M545.3 610.1h0M545.7 613.8h0M546.1 613.8h0M546.5 618.2h0M547.0 617.6h0M547.4 612.2h0M547.8 612.4h0M548.2 605.9h0M548.6 609.7h0M549.1 611.1h0M549.5 609.1h0M549.9 609.9h0M550.3 611.6h0M550.7 605.8h0M551.2 606.9h0M551.6 602.4h0M552.0 612.6h0M552.4 604.5h0M552.9 602.0h0M553.3 610.5h0M553.7 606.8h0M554.1 610.8h0M554.5 606.0h0M555.0 614.8h0M555.4 609.7h0M555.8 607.6h0M556.2 607.4h0M556.7 606.2h0M557.1 609.7h0M557.5 613.9h0M557.9 605.2h0M558.3 602.7h0M558.8 608.7h0M559.2 610.2h0M559.6 601.1h0M560.0 603.8h0M560.4 602.7h0M560.9 608.1h0M561.3 607.9h0M561.7 603.4h0M562.1 601.9h0M562.6 608.3h0M563.0 598.5h0M563.4 608.0h0M563.8 605.1h0M564.2 612.4h0M564.7 609.0h0M565.1 603.3h0M565.5 604.3h0M565.9 604.3h0M566.4 602.6h0M566.8 605.4h0M567.2 608.4h0M567.6 599.6h0M568.0 604.0h0M568.5 610.1h0M568.9 607.4h0M569.3 601.8h0M569.7 601.8h0M570.1 601.6h0M570.6 598.9h0M571.0 608.7h0M571.4 604.8h0M571.8 602.1h0M572.3 599.4h0M572.7 603.1h0M573.1 602.6h0M573.5 610.5h0M573.9 602.8h0M574.4 604.8h0M574.8 608.1h0M575.2 606.7h0M575.6 603.6h0M576.0 596.5h0M576.5 609.2h0M576.9 606.3h0M577.3 602.6h0M577.7 603.8h0M578.2 600.7h0M578.6 600.9h0M579.0 598.8h0M579.4 605.8h0M579.8 605.8h0M580.3 604.6h0M580.7 606.7h0M581.1 605.8h0M581.5 604.5h0M582.0 601.1h0M582.4 606.4h0M582.8 608.7h0M583.2 606.8h0M583.6 609.1h0M584.1 603.2h0M584.5 601.5h0M584.9 609.6h0M585.3 603.2h0M585.7 606.3h0M586.2 604.8h0M586.6 605.7h0M587.0 604.8h0M587.4 604.0h0M587.9 599.8h0M588.3 612.9h0M588.7 607.0h0M589.1 599.6h0M589.5 603.4h0M590.0 602.7h0M590.4 604.2h0M590.8 598.0h0M591.2 609.1h0M591.7 613.0h0M592.1 606.5h0M592.5 610.1h0M592.9 609.8h0M593.3 603.4h0M593.8 612.3h0M594.2 602.1h0M594.6 606.2h0M595.0 607.1h0M595.4 613.0h0M595.9 609.1h0M596.3 608.4h0M596.7 606.1h0M597.1 609.4h0M597.6 609.4h0M598.0 612.0h0M598.4 614.5h0M598.8 612.3h0M599.2 609.9h0M599.7 609.4h0M600.1 615.8h0M600.5 611.0h0M600.9 610.3h0M601.4 616.9h0M601.8 616.2h0M602.2 612.8h0M602.6 610.6h0M603.0 608.9h0M603.5 615.0h0M603.9 609.8h0M604.3 614.9h0M604.7 608.9h0M605.1 612.1h0M605.6 613.2h0M606.0 612.3h0M606.4 612.6h0M606.8 613.1h0M607.3 607.8h0M607.7 607.8h0M608.1 611.2h0M608.5 618.1h0M608.9 611.3h0M609.4 608.5h0M609.8 609.4h0M610.2 611.9h0M610.6 615.9h0M611.0 609.7h0M611.5 613.7h0M611.9 612.4h0M612.3 610.5h0M612.7 608.4h0M613.2 611.2h0M613.6 609.2h0M614.0 613.6h0M614.4 605.5h0M614.8 615.7h0M615.3 614.4h0M615.7 613.8h0M616.1 617.0h0M616.5 613.9h0M617.0 605.7h0M617.4 611.9h0M617.8 613.3h0M618.2 609.3h0M618.6 607.8h0M619.1 613.3h0M619.5 613.5h0M619.9 610.2h0M620.3 610.9h0M620.7 610.0h0M621.2 609.7h0M621.6 611.5h0M622.0 615.5h0M622.4 606.1h0M622.9 610.5h0M623.3 617.4h0M623.7 612.9h0" stroke="#b05ce6" stroke-width="4.4" stroke-linecap="round" fill="none"/>
<path d="M411.4 612.8h0M412.0 602.9h0M413.1 587.9h0M414.0 574.7h0M414.9 568.6h0M415.7 564.0h0M416.3 563.5h0M416.8 561.7h0M417.4 557.8h0M418.0 556.5h0M418.6 556.7h0M419.2 556.0h0M419.7 554.6h0M420.3 551.6h0M420.9 553.3h0M421.5 551.1h0M422.1 554.4h0M422.6 553.2h0M423.2 553.6h0M423.8 556.2h0M424.4 556.1h0M425.0 555.2h0M425.5 555.0h0M426.1 555.0h0M426.7 554.3h0M427.3 555.3h0M427.9 557.9h0M428.4 554.9h0M429.0 555.5h0M429.6 556.8h0M430.2 558.0h0M430.7 558.2h0M431.3 556.4h0M431.9 557.7h0M432.5 557.9h0M433.1 557.1h0M433.6 559.0h0M434.2 558.8h0M434.8 560.8h0M435.4 560.7h0M436.0 559.7h0M436.5 561.1h0M437.1 561.0h0M437.7 561.1h0M438.3 561.6h0M438.9 563.9h0M439.4 562.5h0M440.0 561.4h0M440.6 562.5h0M441.2 564.0h0M441.8 565.2h0M442.3 561.1h0M442.9 561.6h0M443.5 561.3h0M444.1 559.7h0M444.7 561.5h0M445.2 560.6h0M445.8 560.3h0M446.4 561.4h0M447.0 557.3h0M447.6 557.3h0M448.1 556.1h0M448.7 553.2h0M449.3 552.1h0M449.9 553.5h0M450.5 552.4h0M451.0 551.6h0M451.6 550.0h0M452.2 552.2h0M452.8 551.6h0M453.3 553.4h0M453.9 552.4h0M454.5 551.8h0M455.1 551.5h0M455.7 551.5h0M456.2 551.1h0M456.8 552.4h0M457.4 552.6h0M458.0 553.3h0M458.6 554.1h0M459.1 553.5h0M459.7 552.8h0M460.3 554.6h0M460.9 556.3h0M461.5 554.5h0M462.0 557.0h0M462.6 558.2h0M463.2 559.2h0M463.8 560.2h0M464.4 560.6h0M464.9 561.7h0M465.5 565.2h0M466.1 566.7h0M466.7 564.4h0M467.3 564.5h0M467.8 569.4h0M468.4 569.5h0M469.0 571.1h0M469.6 571.3h0M470.2 575.1h0M470.7 576.1h0M471.3 577.0h0M471.9 580.2h0M472.5 583.5h0M473.0 583.8h0M473.6 585.3h0M474.2 585.5h0M474.8 588.7h0M475.4 589.9h0M475.9 593.3h0M476.5 594.7h0M477.1 596.0h0M477.7 598.7h0M478.3 599.5h0M478.8 603.5h0M479.4 606.6h0M480.0 606.7h0M480.6 610.1h0M481.2 609.7h0M481.7 615.0h0M482.3 616.9h0M482.9 616.5h0M483.5 621.5h0M484.1 621.4h0M484.6 621.0h0M485.2 623.2h0M485.8 627.6h0M486.4 627.7h0M487.0 630.5h0M487.5 628.6h0M488.1 631.4h0M488.7 633.9h0M489.3 633.1h0M489.9 635.8h0M490.4 635.8h0M491.0 637.8h0M491.6 638.9h0M492.2 642.3h0M492.7 639.4h0M493.3 642.9h0M493.9 644.7h0M494.5 643.0h0M495.1 645.6h0M495.6 649.3h0M496.2 649.0h0M496.8 645.5h0M497.4 649.8h0M498.0 649.2h0M498.5 652.7h0M499.1 652.7h0M499.7 654.0h0M500.3 654.9h0M500.9 657.3h0M501.4 657.6h0M502.0 658.2h0M502.6 660.2h0M503.2 662.1h0M503.8 661.8h0M504.3 665.2h0M504.9 663.1h0M505.5 666.6h0M506.1 666.5h0M506.7 669.5h0M507.2 667.7h0M507.8 668.5h0M508.4 668.4h0M509.0 673.1h0M509.6 672.3h0M510.1 671.1h0M510.7 672.7h0M511.3 672.8h0M511.9 676.4h0M512.4 675.7h0M513.0 673.4h0M513.6 676.6h0M514.2 678.0h0M514.8 677.5h0M515.3 678.6h0M515.9 678.5h0M516.5 679.4h0M517.1 680.0h0M517.7 679.5h0M518.2 681.3h0M518.8 681.5h0M519.4 681.8h0M520.0 681.5h0M520.6 681.6h0M521.1 683.5h0M521.7 684.7h0M522.3 681.4h0M522.9 684.1h0M523.5 686.7h0M524.0 686.7h0M524.6 685.3h0M525.2 688.2h0M525.8 685.9h0M526.4 686.6h0M526.9 690.3h0M527.5 688.0h0M528.1 688.4h0M528.7 686.8h0M529.3 687.6h0M529.8 688.2h0M530.4 688.9h0M531.0 688.1h0M531.6 689.9h0M532.1 689.1h0M532.7 689.1h0M533.3 689.2h0M533.9 690.1h0M534.5 690.6h0M535.0 689.6h0M535.6 690.9h0M536.2 691.0h0M536.8 690.9h0M537.4 690.4h0M537.9 689.5h0M538.5 690.8h0M539.1 690.2h0M539.7 690.6h0M540.3 689.4h0M540.8 690.4h0M541.4 690.7h0M542.0 690.1h0M542.6 690.8h0M543.2 691.6h0M543.7 690.8h0M544.3 690.3h0M544.9 692.2h0M545.5 689.5h0M546.1 690.3h0M546.6 691.1h0M547.2 690.5h0M547.8 689.6h0M548.4 691.1h0M549.0 691.5h0M549.5 690.5h0M550.1 691.9h0M550.7 691.4h0M551.3 691.8h0M551.9 690.2h0M552.4 691.2h0M553.0 692.1h0M553.6 692.4h0M554.2 692.0h0M554.7 691.3h0M555.3 691.4h0M555.9 691.0h0M556.5 692.0h0M557.1 691.0h0M557.6 691.4h0M558.2 690.2h0M558.8 690.5h0M559.4 692.5h0M560.0 691.5h0M560.5 691.6h0M561.1 690.2h0M561.7 691.5h0M562.3 692.7h0M562.9 690.6h0M563.4 690.1h0M564.0 691.5h0M564.6 691.3h0M565.2 691.5h0M565.8 690.9h0M566.3 690.8h0M566.9 690.9h0M567.5 692.0h0M568.1 691.6h0M568.7 692.2h0M569.2 691.1h0M569.8 692.1h0M570.4 691.5h0M571.0 691.8h0M571.6 692.3h0M572.1 691.8h0M572.7 691.6h0M573.3 690.8h0M573.9 691.9h0M574.4 692.3h0M575.0 691.5h0M575.6 691.8h0M576.2 690.8h0M576.8 691.1h0M577.3 692.1h0M577.9 692.7h0M578.5 691.8h0M579.1 691.0h0M579.7 691.8h0M580.2 691.1h0M580.8 691.8h0M581.4 693.1h0M582.0 692.2h0M582.6 691.9h0M583.1 692.6h0M583.7 691.8h0M584.3 692.2h0M584.9 692.1h0M585.5 692.3h0M586.0 691.1h0M586.6 692.4h0M587.2 692.5h0M587.8 690.7h0M588.4 690.4h0M588.9 691.5h0M589.5 692.9h0M590.1 692.0h0M590.7 692.4h0M591.3 692.3h0M591.8 692.5h0M592.4 691.6h0M593.0 691.7h0M593.6 692.2h0M594.1 692.4h0M594.7 692.3h0M595.3 692.2h0M595.9 691.7h0M596.5 692.7h0M597.0 692.3h0M597.6 692.6h0M598.2 690.5h0M598.8 692.6h0M599.4 690.6h0M599.9 692.1h0M600.5 691.6h0M601.1 692.1h0M601.7 691.7h0M602.3 691.8h0M602.8 692.1h0M603.4 692.2h0M604.0 691.5h0M604.6 690.5h0M605.2 691.5h0M605.7 692.3h0M606.3 691.5h0M606.9 692.3h0M607.5 691.8h0M608.1 691.5h0M608.6 692.7h0M609.2 693.0h0M609.8 691.9h0M610.4 692.0h0M611.0 692.6h0M611.5 691.2h0M612.1 691.5h0M612.7 692.7h0M613.3 692.5h0M613.8 691.7h0M614.4 691.5h0M615.0 692.2h0M615.6 691.2h0M616.2 691.7h0M616.7 691.9h0M617.3 690.6h0M617.9 692.4h0M618.5 692.5h0M619.1 692.6h0M619.6 691.2h0M620.2 691.2h0M620.8 691.5h0M621.4 691.2h0M622.0 693.2h0M622.5 691.4h0M623.1 691.8h0M623.7 692.1h0" stroke="#eb8228" stroke-width="4.4" stroke-linecap="square" fill="none"/>
<path d="M410.00,693.60H623.70" stroke="#ff1a0a" stroke-width="3.4" stroke-dasharray="10.60 18.70" stroke-dashoffset="-1.70" stroke-linecap="round" fill="none"/>
<path d="M158.60,17.10V190.50" stroke="#1a1a1a" stroke-width="1.8" stroke-dasharray="2.2 6.15" fill="none"/>
<path d="M65.00,17.10V190.50" stroke="#1a1a1a" stroke-width="1.8" stroke-dasharray="2.2 6.15" fill="none"/>
<rect x="86" y="46.5" width="177" height="47" fill="#fff"/>
<path d="M507.40,17.10V190.50" stroke="#1a1a1a" stroke-width="1.8" stroke-dasharray="2.2 6.15" fill="none"/>
<path d="M167.70,267.90V443.00" stroke="#1a1a1a" stroke-width="1.8" stroke-dasharray="2.2 6.15" fill="none"/>
<path d="M516.70,267.90V443.00" stroke="#1a1a1a" stroke-width="1.8" stroke-dasharray="2.2 6.15" fill="none"/>
<path d="M233.10,521.10V695.00" stroke="#1a1a1a" stroke-width="1.8" stroke-dasharray="2.2 6.15" fill="none"/>
<path d="M518.90,521.10V695.00" stroke="#1a1a1a" stroke-width="1.8" stroke-dasharray="2.2 6.15" fill="none"/>
<text transform="translate(27.11,195.00) scale(0.9100,1)" font-size="16.5">0.0</text>
<text transform="translate(27.16,151.32) scale(0.9100,1)" font-size="16.5">0.5</text>
<text transform="translate(28.70,107.65) scale(0.8387,1)" font-size="16.5">1.0</text>
<text transform="translate(28.75,63.98) scale(0.8385,1)" font-size="16.5">1.5</text>
<text transform="translate(27.11,20.30) scale(0.9100,1)" font-size="16.5">2.0</text>
<text transform="translate(286.01,195.00) scale(0.9100,1)" font-size="16.5">0.0</text>
<text transform="translate(286.01,160.06) scale(0.9100,1)" font-size="16.5">0.2</text>
<text transform="translate(286.01,125.12) scale(0.9100,1)" font-size="16.5">0.4</text>
<text transform="translate(286.01,90.18) scale(0.9100,1)" font-size="16.5">0.6</text>
<text transform="translate(286.01,55.24) scale(0.9100,1)" font-size="16.5">0.8</text>
<text transform="translate(285.55,20.30) scale(0.8387,1)" font-size="16.5">1.0</text>
<text transform="translate(55.90,215.30) scale(0.9800,1)" font-size="16.5">0</text>
<text transform="translate(94.08,215.30) scale(0.9800,1)" font-size="16.5">20</text>
<text transform="translate(137.06,215.30) scale(0.9800,1)" font-size="16.5">40</text>
<text transform="translate(179.59,215.30) scale(0.9800,1)" font-size="16.5">60</text>
<text transform="translate(222.41,215.30) scale(0.9800,1)" font-size="16.5">80</text>
<text transform="translate(261.78,215.30) scale(0.8825,1)" font-size="16.5">100</text>
<text transform="translate(127.94,239.10) scale(0.9550,1)" font-size="16.5">Depth (nm)</text>
<text transform="translate(376.71,195.00) scale(0.9100,1)" font-size="16.5">0.0</text>
<text transform="translate(376.76,151.32) scale(0.9100,1)" font-size="16.5">0.5</text>
<text transform="translate(378.30,107.65) scale(0.8387,1)" font-size="16.5">1.0</text>
<text transform="translate(378.35,63.98) scale(0.8385,1)" font-size="16.5">1.5</text>
<text transform="translate(376.71,20.30) scale(0.9100,1)" font-size="16.5">2.0</text>
<text transform="translate(635.51,195.00) scale(0.9100,1)" font-size="16.5">0.0</text>
<text transform="translate(635.56,136.77) scale(0.8402,1)" font-size="16.5">0.1</text>
<text transform="translate(635.51,78.53) scale(0.9100,1)" font-size="16.5">0.2</text>
<text transform="translate(635.51,20.30) scale(0.9100,1)" font-size="16.5">0.3</text>
<text transform="translate(405.50,215.30) scale(0.9800,1)" font-size="16.5">0</text>
<text transform="translate(472.23,215.30) scale(0.9800,1)" font-size="16.5">50</text>
<text transform="translate(540.05,215.30) scale(0.8825,1)" font-size="16.5">100</text>
<text transform="translate(611.28,215.30) scale(0.8825,1)" font-size="16.5">150</text>
<text transform="translate(477.49,239.10) scale(0.9550,1)" font-size="16.5">Depth (nm)</text>
<text transform="translate(27.11,447.40) scale(0.9100,1)" font-size="16.5">0.0</text>
<text transform="translate(27.16,403.75) scale(0.9100,1)" font-size="16.5">0.5</text>
<text transform="translate(28.70,360.10) scale(0.8387,1)" font-size="16.5">1.0</text>
<text transform="translate(28.75,316.45) scale(0.8385,1)" font-size="16.5">1.5</text>
<text transform="translate(27.11,272.80) scale(0.9100,1)" font-size="16.5">2.0</text>
<text transform="translate(286.01,447.40) scale(0.9100,1)" font-size="16.5">0.0</text>
<text transform="translate(286.06,412.48) scale(0.8402,1)" font-size="16.5">0.1</text>
<text transform="translate(286.01,377.56) scale(0.9100,1)" font-size="16.5">0.2</text>
<text transform="translate(286.01,342.64) scale(0.9100,1)" font-size="16.5">0.3</text>
<text transform="translate(286.01,307.72) scale(0.9100,1)" font-size="16.5">0.4</text>
<text transform="translate(286.01,272.80) scale(0.9100,1)" font-size="16.5">0.5</text>
<text transform="translate(55.90,467.70) scale(0.9800,1)" font-size="16.5">0</text>
<text transform="translate(89.58,467.70) scale(0.9800,1)" font-size="16.5">200</text>
<text transform="translate(132.56,467.70) scale(0.9800,1)" font-size="16.5">400</text>
<text transform="translate(175.10,467.70) scale(0.9800,1)" font-size="16.5">600</text>
<text transform="translate(217.91,467.70) scale(0.9800,1)" font-size="16.5">800</text>
<text transform="translate(257.25,467.70) scale(0.9082,1)" font-size="16.5">1000</text>
<text transform="translate(127.94,491.50) scale(0.9550,1)" font-size="16.5">Depth (nm)</text>
<text transform="translate(376.71,447.40) scale(0.9100,1)" font-size="16.5">0.0</text>
<text transform="translate(376.76,403.75) scale(0.9100,1)" font-size="16.5">0.5</text>
<text transform="translate(378.30,360.10) scale(0.8387,1)" font-size="16.5">1.0</text>
<text transform="translate(378.35,316.45) scale(0.8385,1)" font-size="16.5">1.5</text>
<text transform="translate(376.71,272.80) scale(0.9100,1)" font-size="16.5">2.0</text>
<text transform="translate(635.47,447.40) scale(0.9800,1)" font-size="16.5">0</text>
<text transform="translate(635.29,403.75) scale(0.9800,1)" font-size="16.5">2</text>
<text transform="translate(635.73,360.10) scale(0.9800,1)" font-size="16.5">4</text>
<text transform="translate(635.28,316.45) scale(0.9800,1)" font-size="16.5">6</text>
<text transform="translate(635.40,272.80) scale(0.9800,1)" font-size="16.5">8</text>
<text transform="translate(405.50,467.70) scale(0.9800,1)" font-size="16.5">0</text>
<text transform="translate(443.74,467.70) scale(0.9800,1)" font-size="16.5">50</text>
<text transform="translate(483.06,467.70) scale(0.8825,1)" font-size="16.5">100</text>
<text transform="translate(525.80,467.70) scale(0.8825,1)" font-size="16.5">150</text>
<text transform="translate(567.38,467.70) scale(0.9800,1)" font-size="16.5">200</text>
<text transform="translate(610.12,467.70) scale(0.9800,1)" font-size="16.5">250</text>
<text transform="translate(477.49,491.50) scale(0.9550,1)" font-size="16.5">Depth (nm)</text>
<text transform="translate(27.11,699.50) scale(0.9100,1)" font-size="16.5">0.0</text>
<text transform="translate(27.16,655.88) scale(0.9100,1)" font-size="16.5">0.5</text>
<text transform="translate(28.70,612.25) scale(0.8387,1)" font-size="16.5">1.0</text>
<text transform="translate(28.75,568.62) scale(0.8385,1)" font-size="16.5">1.5</text>
<text transform="translate(27.11,525.00) scale(0.9100,1)" font-size="16.5">2.0</text>
<text transform="translate(286.01,699.50) scale(0.9100,1)" font-size="16.5">0.0</text>
<text transform="translate(286.01,655.88) scale(0.9100,1)" font-size="16.5">0.5</text>
<text transform="translate(285.55,612.25) scale(0.8387,1)" font-size="16.5">1.0</text>
<text transform="translate(285.55,568.62) scale(0.8385,1)" font-size="16.5">1.5</text>
<text transform="translate(285.84,525.00) scale(0.9100,1)" font-size="16.5">2.0</text>
<text transform="translate(55.90,719.80) scale(0.9800,1)" font-size="16.5">0</text>
<text transform="translate(89.58,719.80) scale(0.9800,1)" font-size="16.5">200</text>
<text transform="translate(132.56,719.80) scale(0.9800,1)" font-size="16.5">400</text>
<text transform="translate(175.10,719.80) scale(0.9800,1)" font-size="16.5">600</text>
<text transform="translate(217.91,719.80) scale(0.9800,1)" font-size="16.5">800</text>
<text transform="translate(257.25,719.80) scale(0.9082,1)" font-size="16.5">1000</text>
<text transform="translate(127.94,743.60) scale(0.9550,1)" font-size="16.5">Depth (nm)</text>
<text transform="translate(376.71,699.50) scale(0.9100,1)" font-size="16.5">0.0</text>
<text transform="translate(376.76,655.88) scale(0.9100,1)" font-size="16.5">0.5</text>
<text transform="translate(378.30,612.25) scale(0.8387,1)" font-size="16.5">1.0</text>
<text transform="translate(378.35,568.62) scale(0.8385,1)" font-size="16.5">1.5</text>
<text transform="translate(376.71,525.00) scale(0.9100,1)" font-size="16.5">2.0</text>
<text transform="translate(635.47,699.50) scale(0.9800,1)" font-size="16.5">0</text>
<text transform="translate(635.31,664.60) scale(0.6286,1)" font-size="16.5">1</text>
<text transform="translate(635.29,629.70) scale(0.9800,1)" font-size="16.5">2</text>
<text transform="translate(635.48,594.80) scale(0.9800,1)" font-size="16.5">3</text>
<text transform="translate(635.73,559.90) scale(0.9800,1)" font-size="16.5">4</text>
<text transform="translate(635.45,525.00) scale(0.9800,1)" font-size="16.5">5</text>
<text transform="translate(405.50,719.80) scale(0.9800,1)" font-size="16.5">0</text>
<text transform="translate(440.32,719.80) scale(0.8825,1)" font-size="16.5">100</text>
<text transform="translate(481.90,719.80) scale(0.9800,1)" font-size="16.5">200</text>
<text transform="translate(524.74,719.80) scale(0.9800,1)" font-size="16.5">300</text>
<text transform="translate(567.60,719.80) scale(0.9800,1)" font-size="16.5">400</text>
<text transform="translate(610.20,719.80) scale(0.9800,1)" font-size="16.5">500</text>
<text transform="translate(477.49,743.60) scale(0.9550,1)" font-size="16.5">Depth (nm)</text>
<text transform="translate(145.65,13.10) scale(0.9266,1)" font-size="16.5">B6A4</text>
<text transform="translate(499.26,12.80) scale(0.8386,1)" font-size="16.5">B11A6</text>
<text transform="translate(148.40,264.10) scale(0.8154,1)" font-size="16.5">B11A3</text>
<text transform="translate(500.93,265.30) scale(0.8658,1)" font-size="16.5">B10A2</text>
<text transform="translate(146.02,516.60) scale(0.8723,1)" font-size="16.5">B14A3</text>
<text transform="translate(501.58,517.00) scale(0.8294,1)" font-size="16.5">B10A1</text>
<text transform="translate(50.48,13.70) scale(0.8836,1)" font-size="14">Gel</text>
<text transform="translate(79.48,31.90) scale(0.9771,1)" font-size="14">Hydrated</text>
<text transform="translate(94.78,52.20) scale(0.8864,1)" font-size="14">glass</text>
<text transform="translate(176.45,32.00) scale(0.9130,1)" font-size="14">Pristine glass</text>
<text transform="translate(451.64,31.90) scale(0.9382,1)" font-size="14">Gel</text>
<text transform="translate(524.53,32.00) scale(0.9326,1)" font-size="14">Pristine glass</text>
<text transform="translate(104.33,282.80) scale(0.9531,1)" font-size="14">Gel</text>
<text transform="translate(180.94,282.80) scale(0.9252,1)" font-size="14">Pristine glass</text>
<text transform="translate(456.84,283.00) scale(0.9431,1)" font-size="14">Gel</text>
<text transform="translate(532.75,283.80) scale(0.9118,1)" font-size="14">Pristine glass</text>
<text transform="translate(144.56,535.70) scale(0.9034,1)" font-size="14">Gel</text>
<text transform="translate(224.83,534.90) scale(0.9307,1)" font-size="14">Pristine</text>
<text transform="translate(232.76,554.80) scale(0.9212,1)" font-size="14">glass</text>
<text transform="translate(454.26,535.90) scale(0.9134,1)" font-size="14">Gel</text>
<text transform="translate(535.05,535.40) scale(0.9179,1)" font-size="14">Pristine glass</text>
<circle cx="95.20" cy="61.50" r="2.2" fill="#b05ce6"/>
<rect x="92.90" y="80.80" width="4.4" height="4.4" fill="#eb8228"/>
<path d="M161.00,83.50H200.00" stroke="#ff1a0a" stroke-width="3.4" stroke-dasharray="10.60 18.70" stroke-dashoffset="-1.70" stroke-linecap="round" fill="none"/>
<g transform="translate(118.10,67.60)"><text transform="translate(-0.91,0.00) scale(0.8033,1)" font-size="13.8">B</text><text transform="translate(7.25,-5.30) scale(1.0770,1)" font-size="8.6">+</text></g>
<g transform="translate(113.50,88.80)"><text transform="translate(-0.44,-5.00) scale(0.8339,1)" font-size="10.4">29</text><text transform="translate(9.67,0.00) scale(0.6907,1)" font-size="13.8">Si</text><text transform="translate(19.10,0.00) scale(0.9650,1)" font-size="13.8">/</text><text transform="translate(24.57,-5.00) scale(0.8213,1)" font-size="10.4">28</text><text transform="translate(34.96,0.00) scale(0.8587,1)" font-size="13.8">Si</text></g>
<text transform="translate(202.32,88.40) scale(0.9178,1)" font-size="14">Si nat. ab.</text>
<path d="M178.00,59.65h5.40l-2.70,4.70z" fill="#52ef72"/>
<g transform="translate(203.80,67.50)"><text transform="translate(-1.02,0.00) scale(0.9025,1)" font-size="13.8">Na</text><text transform="translate(16.16,-5.30) scale(1.0531,1)" font-size="8.6">+</text></g>
<circle cx="535.20" cy="45.60" r="2.2" fill="#b05ce6"/>
<rect x="533.00" y="64.60" width="4.4" height="4.4" fill="#eb8228"/>
<path d="M516.00,87.30H554.50" stroke="#ff1a0a" stroke-width="3.4" stroke-dasharray="10.60 18.70" stroke-dashoffset="-1.70" stroke-linecap="round" fill="none"/>
<g transform="translate(557.70,50.80)"><text transform="translate(-0.91,0.00) scale(0.8033,1)" font-size="13.8">B</text><text transform="translate(7.25,-5.30) scale(1.0770,1)" font-size="8.6">+</text></g>
<g transform="translate(557.00,71.60)"><text transform="translate(-0.44,-5.00) scale(0.8395,1)" font-size="10.4">29</text><text transform="translate(9.73,0.00) scale(0.6953,1)" font-size="13.8">Si</text><text transform="translate(19.23,0.00) scale(0.9715,1)" font-size="13.8">/</text><text transform="translate(24.74,-5.00) scale(0.8268,1)" font-size="10.4">28</text><text transform="translate(35.20,0.00) scale(0.8645,1)" font-size="13.8">Si</text></g>
<text transform="translate(557.11,92.10) scale(0.9210,1)" font-size="14">Si nat. ab.</text>
<circle cx="87.20" cy="306.30" r="2.2" fill="#b05ce6"/>
<rect x="85.30" y="325.10" width="4.4" height="4.4" fill="#eb8228"/>
<path d="M67.90,348.10H107.00" stroke="#ff1a0a" stroke-width="3.4" stroke-dasharray="10.60 18.70" stroke-dashoffset="-1.70" stroke-linecap="round" fill="none"/>
<g transform="translate(106.40,312.20)"><text transform="translate(-0.91,0.00) scale(0.8033,1)" font-size="13.8">B</text><text transform="translate(7.25,-5.30) scale(1.0770,1)" font-size="8.6">+</text></g>
<g transform="translate(109.90,333.60)"><text transform="translate(-0.43,-5.00) scale(0.8283,1)" font-size="10.4">29</text><text transform="translate(9.60,0.00) scale(0.6861,1)" font-size="13.8">Si</text><text transform="translate(18.97,0.00) scale(0.9586,1)" font-size="13.8">/</text><text transform="translate(24.41,-5.00) scale(0.8158,1)" font-size="10.4">28</text><text transform="translate(34.73,0.00) scale(0.8529,1)" font-size="13.8">Si</text></g>
<text transform="translate(110.23,353.20) scale(0.9030,1)" font-size="14">Si nat. ab.</text>
<circle cx="537.00" cy="303.10" r="2.2" fill="#b05ce6"/>
<rect x="535.20" y="322.20" width="4.4" height="4.4" fill="#eb8228"/>
<path d="M518.00,344.80H557.00" stroke="#ff1a0a" stroke-width="3.4" stroke-dasharray="10.60 18.70" stroke-dashoffset="-1.70" stroke-linecap="round" fill="none"/>
<g transform="translate(559.80,308.20)"><text transform="translate(-0.91,0.00) scale(0.8033,1)" font-size="13.8">B</text><text transform="translate(7.25,-5.30) scale(1.0770,1)" font-size="8.6">+</text></g>
<g transform="translate(559.80,329.50)"><text transform="translate(-0.44,-5.00) scale(0.8321,1)" font-size="10.4">29</text><text transform="translate(9.65,0.00) scale(0.6891,1)" font-size="13.8">Si</text><text transform="translate(19.06,0.00) scale(0.9629,1)" font-size="13.8">/</text><text transform="translate(24.52,-5.00) scale(0.8195,1)" font-size="10.4">28</text><text transform="translate(34.88,0.00) scale(0.8568,1)" font-size="13.8">Si</text></g>
<text transform="translate(559.82,349.40) scale(0.9063,1)" font-size="14">Si nat. ab.</text>
<circle cx="120.10" cy="562.80" r="2.2" fill="#b05ce6"/>
<rect x="117.90" y="582.50" width="4.4" height="4.4" fill="#eb8228"/>
<path d="M100.50,605.60H140.00" stroke="#ff1a0a" stroke-width="3.4" stroke-dasharray="10.60 18.70" stroke-dashoffset="-1.70" stroke-linecap="round" fill="none"/>
<g transform="translate(142.90,568.70)"><text transform="translate(-0.91,0.00) scale(0.8033,1)" font-size="13.8">B</text><text transform="translate(7.25,-5.30) scale(1.0770,1)" font-size="8.6">+</text></g>
<g transform="translate(142.90,590.70)"><text transform="translate(-0.43,-5.00) scale(0.8246,1)" font-size="10.4">29</text><text transform="translate(9.56,0.00) scale(0.6830,1)" font-size="13.8">Si</text><text transform="translate(18.89,0.00) scale(0.9542,1)" font-size="13.8">/</text><text transform="translate(24.30,-5.00) scale(0.8121,1)" font-size="10.4">28</text><text transform="translate(34.57,0.00) scale(0.8491,1)" font-size="13.8">Si</text></g>
<text transform="translate(142.32,610.50) scale(0.9178,1)" font-size="14">Si nat. ab.</text>
<circle cx="543.30" cy="548.30" r="2.2" fill="#b05ce6"/>
<rect x="541.50" y="567.70" width="4.4" height="4.4" fill="#eb8228"/>
<path d="M523.70,590.60H562.60" stroke="#ff1a0a" stroke-width="3.4" stroke-dasharray="10.60 18.70" stroke-dashoffset="-1.70" stroke-linecap="round" fill="none"/>
<g transform="translate(565.50,553.10)"><text transform="translate(-0.91,0.00) scale(0.8033,1)" font-size="13.8">B</text><text transform="translate(7.25,-5.30) scale(1.0770,1)" font-size="8.6">+</text></g>
<g transform="translate(565.50,575.00)"><text transform="translate(-0.43,-5.00) scale(0.8302,1)" font-size="10.4">29</text><text transform="translate(9.62,0.00) scale(0.6876,1)" font-size="13.8">Si</text><text transform="translate(19.01,0.00) scale(0.9607,1)" font-size="13.8">/</text><text transform="translate(24.46,-5.00) scale(0.8176,1)" font-size="10.4">28</text><text transform="translate(34.81,0.00) scale(0.8549,1)" font-size="13.8">Si</text></g>
<text transform="translate(565.43,594.90) scale(0.8916,1)" font-size="14">Si nat. ab.</text>
<g transform="translate(13.80,127.00) rotate(-90)"><text transform="translate(-0.71,0.00) scale(0.8622,1)" font-size="16.3">C</text><text transform="translate(9.06,4.90) scale(0.9902,1)" font-size="11.2">norm</text><text transform="translate(35.13,0.00) scale(0.8590,1)" font-size="16.3">(i)</text></g>
<g transform="translate(332.40,130.05) rotate(-90)"><text transform="translate(-0.47,-6.40) scale(0.8198,1)" font-size="11.3">29</text><text transform="translate(10.97,0.00) scale(0.7967,1)" font-size="17.3">Si</text><text transform="translate(23.10,0.00) scale(1.5188,1)" font-size="17.3">/</text><text transform="translate(30.34,-6.40) scale(0.8167,1)" font-size="11.3">28</text><text transform="translate(40.43,0.00) scale(0.8562,1)" font-size="17.3">Si</text></g>
<g transform="translate(362.60,133.25) rotate(-90)"><text transform="translate(-0.72,0.00) scale(0.8719,1)" font-size="16.3">C</text><text transform="translate(8.81,5.40) scale(1.0651,1)" font-size="11.2">norm</text><text transform="translate(34.69,0.00) scale(0.9950,1)" font-size="16.3">(</text><text transform="translate(39.10,0.00) scale(1.0490,1)" font-size="16.3">B</text><text transform="translate(50.33,-6.80) scale(0.7616,1)" font-size="10">+</text><text transform="translate(55.42,0.00) scale(0.8561,1)" font-size="16.3">)</text></g>
<g transform="translate(681.90,130.05) rotate(-90)"><text transform="translate(-0.47,-6.40) scale(0.8198,1)" font-size="11.3">29</text><text transform="translate(10.97,0.00) scale(0.7967,1)" font-size="17.3">Si</text><text transform="translate(23.10,0.00) scale(1.5188,1)" font-size="17.3">/</text><text transform="translate(30.34,-6.40) scale(0.8167,1)" font-size="11.3">28</text><text transform="translate(40.43,0.00) scale(0.8562,1)" font-size="17.3">Si</text></g>
<g transform="translate(13.00,385.70) rotate(-90)"><text transform="translate(-0.72,0.00) scale(0.8719,1)" font-size="16.3">C</text><text transform="translate(8.81,5.40) scale(1.0651,1)" font-size="11.2">norm</text><text transform="translate(34.69,0.00) scale(0.9950,1)" font-size="16.3">(</text><text transform="translate(39.10,0.00) scale(1.0490,1)" font-size="16.3">B</text><text transform="translate(50.33,-6.80) scale(0.7616,1)" font-size="10">+</text><text transform="translate(55.42,0.00) scale(0.8561,1)" font-size="16.3">)</text></g>
<g transform="translate(332.40,382.50) rotate(-90)"><text transform="translate(-0.47,-6.40) scale(0.8198,1)" font-size="11.3">29</text><text transform="translate(10.97,0.00) scale(0.7967,1)" font-size="17.3">Si</text><text transform="translate(23.10,0.00) scale(1.5188,1)" font-size="17.3">/</text><text transform="translate(30.34,-6.40) scale(0.8167,1)" font-size="11.3">28</text><text transform="translate(40.43,0.00) scale(0.8562,1)" font-size="17.3">Si</text></g>
<g transform="translate(362.60,385.70) rotate(-90)"><text transform="translate(-0.72,0.00) scale(0.8719,1)" font-size="16.3">C</text><text transform="translate(8.81,5.40) scale(1.0651,1)" font-size="11.2">norm</text><text transform="translate(34.69,0.00) scale(0.9950,1)" font-size="16.3">(</text><text transform="translate(39.10,0.00) scale(1.0490,1)" font-size="16.3">B</text><text transform="translate(50.33,-6.80) scale(0.7616,1)" font-size="10">+</text><text transform="translate(55.42,0.00) scale(0.8561,1)" font-size="16.3">)</text></g>
<g transform="translate(669.30,382.50) rotate(-90)"><text transform="translate(-0.47,-6.40) scale(0.8198,1)" font-size="11.3">29</text><text transform="translate(10.97,0.00) scale(0.7967,1)" font-size="17.3">Si</text><text transform="translate(23.10,0.00) scale(1.5188,1)" font-size="17.3">/</text><text transform="translate(30.34,-6.40) scale(0.8167,1)" font-size="11.3">28</text><text transform="translate(40.43,0.00) scale(0.8562,1)" font-size="17.3">Si</text></g>
<g transform="translate(13.00,637.85) rotate(-90)"><text transform="translate(-0.72,0.00) scale(0.8719,1)" font-size="16.3">C</text><text transform="translate(8.81,5.40) scale(1.0651,1)" font-size="11.2">norm</text><text transform="translate(34.69,0.00) scale(0.9950,1)" font-size="16.3">(</text><text transform="translate(39.10,0.00) scale(1.0490,1)" font-size="16.3">B</text><text transform="translate(50.33,-6.80) scale(0.7616,1)" font-size="10">+</text><text transform="translate(55.42,0.00) scale(0.8561,1)" font-size="16.3">)</text></g>
<g transform="translate(332.40,634.65) rotate(-90)"><text transform="translate(-0.47,-6.40) scale(0.8198,1)" font-size="11.3">29</text><text transform="translate(10.97,0.00) scale(0.7967,1)" font-size="17.3">Si</text><text transform="translate(23.10,0.00) scale(1.5188,1)" font-size="17.3">/</text><text transform="translate(30.34,-6.40) scale(0.8167,1)" font-size="11.3">28</text><text transform="translate(40.43,0.00) scale(0.8562,1)" font-size="17.3">Si</text></g>
<g transform="translate(362.60,637.85) rotate(-90)"><text transform="translate(-0.72,0.00) scale(0.8719,1)" font-size="16.3">C</text><text transform="translate(8.81,5.40) scale(1.0651,1)" font-size="11.2">norm</text><text transform="translate(34.69,0.00) scale(0.9950,1)" font-size="16.3">(</text><text transform="translate(39.10,0.00) scale(1.0490,1)" font-size="16.3">B</text><text transform="translate(50.33,-6.80) scale(0.7616,1)" font-size="10">+</text><text transform="translate(55.42,0.00) scale(0.8561,1)" font-size="16.3">)</text></g>
<g transform="translate(669.30,634.65) rotate(-90)"><text transform="translate(-0.47,-6.40) scale(0.8198,1)" font-size="11.3">29</text><text transform="translate(10.97,0.00) scale(0.7967,1)" font-size="17.3">Si</text><text transform="translate(23.10,0.00) scale(1.5188,1)" font-size="17.3">/</text><text transform="translate(30.34,-6.40) scale(0.8167,1)" font-size="11.3">28</text><text transform="translate(40.43,0.00) scale(0.8562,1)" font-size="17.3">Si</text></g>
</svg>
</body></html>
